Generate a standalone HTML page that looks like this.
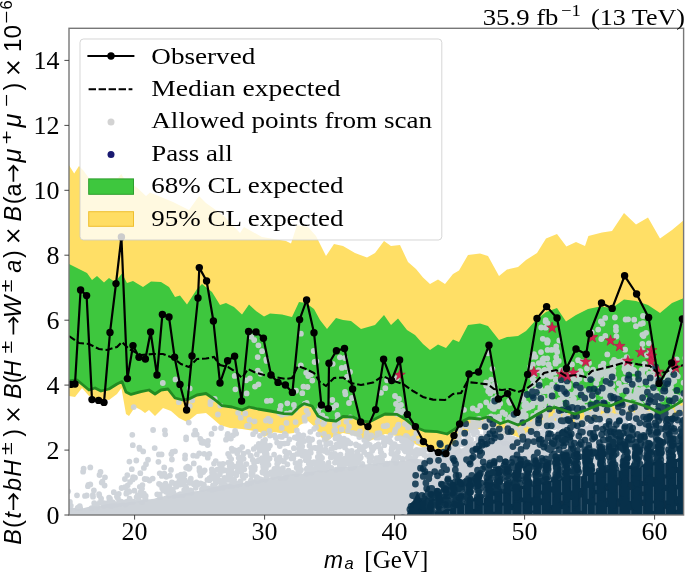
<!DOCTYPE html><html><head><meta charset="utf-8"><title>plot</title><style>html,body{margin:0;padding:0;background:#fff}svg{display:block;will-change:transform;transform:translateZ(0)}text{font-family:"Liberation Serif",serif;fill:#000}.s{font-family:"Liberation Sans",sans-serif}</style></head><body>
<svg width="685" height="572" viewBox="0 0 685 572">
<rect width="685" height="572" fill="#fff"/>
<defs><clipPath id="c"><rect x="69.0" y="28.3" width="614.6" height="486.7"/></clipPath></defs>
<g clip-path="url(#c)">
<polygon fill="#ffdf66" points="69.0,165.3 74.2,173.4 79.0,166.0 83.4,170.4 89.2,178.5 100.0,180.0 112.0,178.0 118.0,178.0 121.3,174.0 124.0,178.5 137.4,188.0 146.0,196.0 150.0,192.5 173.0,202.0 189.0,210.0 199.0,196.0 206.0,203.0 224.0,216.0 240.0,233.0 244.0,227.0 262.0,237.0 286.0,241.0 291.0,243.6 297.0,225.0 308.0,227.0 316.0,236.0 326.0,256.0 334.0,244.0 343.0,246.0 355.0,253.0 367.0,257.6 375.0,253.0 384.0,241.0 391.0,246.0 400.0,245.0 408.0,262.0 416.0,269.0 423.0,277.6 430.0,284.0 438.0,279.4 445.0,284.0 453.0,274.0 459.0,270.4 468.0,255.0 480.0,253.6 488.0,256.0 499.0,276.0 507.0,269.6 518.0,267.0 526.0,260.0 537.0,253.0 546.0,238.4 557.0,234.0 566.4,246.6 576.0,242.0 585.0,246.0 588.4,236.0 602.0,232.4 612.0,231.0 624.0,213.0 636.0,224.4 648.0,217.6 660.0,238.6 672.0,230.0 684.0,220.0 684.0,412.0 672.0,419.0 660.0,425.0 648.0,419.0 636.0,415.0 624.0,412.0 610.0,419.0 600.0,417.0 590.0,422.0 580.0,427.0 570.0,424.0 560.0,420.0 550.0,422.0 540.0,427.0 530.0,432.0 520.0,438.0 510.0,434.0 500.0,436.0 490.0,430.0 480.0,429.0 471.0,430.0 463.0,434.0 455.0,444.0 447.0,451.0 443.0,450.0 423.0,448.0 415.0,444.0 407.0,438.0 397.0,436.0 385.0,434.0 377.0,438.0 369.0,441.0 361.0,438.0 353.0,435.0 343.0,433.0 334.0,436.0 326.0,442.0 320.0,436.0 316.0,428.0 308.0,421.0 300.0,425.0 294.0,433.0 286.0,434.0 274.0,432.0 264.0,437.0 260.0,432.0 242.0,429.0 230.0,428.0 220.0,425.0 212.0,418.0 206.0,413.0 197.0,414.0 187.0,422.0 179.0,418.0 171.0,411.0 163.0,408.0 155.0,416.0 149.0,410.0 145.0,413.0 141.0,410.0 135.0,407.0 129.0,416.0 126.0,414.0 121.4,388.0 117.0,394.0 109.0,400.0 95.0,398.0 89.0,396.0 82.0,388.0 75.0,397.0 69.0,396.0"/>
<polygon fill="#3ec73e" points="69.0,264.0 77.0,268.0 87.0,273.0 92.0,280.0 97.0,276.0 104.0,282.4 109.0,278.0 115.0,282.0 122.0,273.6 127.0,283.0 133.0,281.0 143.0,287.0 151.0,281.6 161.0,282.0 169.0,287.0 175.0,297.0 180.0,295.6 187.0,304.4 197.0,289.0 202.0,284.0 212.0,292.0 220.0,305.0 226.0,303.0 234.0,307.0 242.0,314.4 249.0,304.4 256.0,311.0 264.0,316.6 270.0,313.6 282.0,314.4 292.0,317.0 299.0,302.0 306.0,303.0 314.0,309.0 320.0,320.0 327.0,329.0 336.0,318.0 343.0,320.0 351.0,321.0 361.0,329.0 375.0,325.0 384.0,315.0 391.0,325.0 398.0,318.4 407.0,330.0 415.0,335.0 423.0,344.0 430.0,350.0 438.0,344.4 446.0,348.0 453.0,339.6 459.0,342.0 468.0,325.0 480.0,323.5 488.0,326.0 499.0,340.0 507.0,337.0 518.0,336.0 526.0,331.0 536.0,320.0 546.0,312.0 557.0,308.0 566.0,321.5 576.0,315.0 588.0,309.0 600.0,306.4 612.0,308.0 624.0,299.6 636.0,301.0 648.0,305.0 660.0,313.0 672.0,303.0 684.0,298.0 684.0,400.0 672.0,407.0 660.0,413.0 648.0,407.0 636.0,403.0 624.0,400.0 610.0,406.0 599.0,404.7 586.0,410.0 575.0,414.0 566.0,411.0 556.0,407.5 548.0,408.5 538.0,414.0 528.0,420.0 518.0,425.0 508.0,421.0 500.0,423.6 488.0,417.0 480.0,419.0 469.0,418.0 463.0,421.0 455.0,429.0 447.0,434.0 437.0,431.6 425.0,431.0 415.0,427.0 405.0,419.0 397.0,414.4 385.0,414.0 379.0,417.0 369.0,422.0 361.0,421.0 353.0,417.0 343.0,416.5 336.0,421.0 326.0,420.0 318.0,416.0 312.0,406.0 304.0,403.6 299.0,407.0 292.0,414.0 284.0,413.6 270.0,411.0 258.0,409.0 249.0,407.0 242.0,410.0 232.0,407.0 222.0,405.6 214.0,399.0 206.0,393.5 197.0,395.0 189.0,399.0 183.0,400.0 175.0,398.0 168.0,389.0 161.0,390.0 155.0,394.0 149.0,390.0 141.0,391.6 131.0,394.4 126.0,392.0 122.0,381.6 117.0,384.0 109.0,389.0 101.0,391.0 95.0,388.0 89.0,390.0 77.0,380.0 69.0,381.0"/>
<polygon fill="#ced3d9" points="66.0,508.1 70.0,508.1 74.0,507.8 78.0,508.9 82.0,508.4 86.0,507.4 90.0,506.6 94.0,506.2 98.0,506.5 102.0,504.9 106.0,504.2 110.0,503.4 114.0,503.3 118.0,503.4 122.0,502.6 126.0,502.7 130.0,501.7 134.0,501.5 138.0,501.2 142.0,500.3 146.0,499.5 150.0,499.3 154.0,498.7 158.0,497.6 162.0,496.9 166.0,495.3 170.0,496.2 174.0,494.2 178.0,494.2 182.0,494.1 186.0,492.9 190.0,492.5 194.0,491.3 198.0,491.1 202.0,489.8 206.0,489.4 210.0,487.7 214.0,486.8 218.0,486.7 222.0,485.3 226.0,484.8 230.0,484.1 234.0,484.9 238.0,484.0 242.0,483.3 246.0,482.6 250.0,481.0 254.0,480.0 258.0,480.4 262.0,478.4 266.0,479.2 270.0,477.3 274.0,477.2 278.0,475.9 282.0,476.5 286.0,474.8 290.0,474.4 294.0,473.8 298.0,473.4 302.0,474.0 306.0,472.1 310.0,471.7 314.0,471.5 318.0,470.2 322.0,470.5 326.0,470.5 330.0,469.2 334.0,468.8 338.0,467.2 342.0,466.9 346.0,467.0 350.0,466.7 354.0,466.3 358.0,465.8 362.0,463.9 366.0,464.5 370.0,463.4 374.0,464.2 378.0,462.9 382.0,462.8 386.0,462.3 390.0,460.4 394.0,460.9 398.0,461.4 402.0,460.6 406.0,460.2 410.0,458.7 414.0,458.8 418.0,459.0 422.0,459.4 426.0,459.5 430.0,459.6 434.0,458.0 438.0,459.2 442.0,458.5 446.0,456.6 450.0,454.2 454.0,451.8 458.0,448.7 462.0,448.5 466.0,446.0 470.0,442.7 474.0,441.2 478.0,439.2 482.0,439.1 486.0,438.0 490.0,439.9 494.0,440.2 498.0,440.1 502.0,441.0 506.0,440.5 510.0,441.9 514.0,441.7 518.0,442.2 522.0,442.6 526.0,441.5 530.0,440.5 534.0,438.2 538.0,438.5 542.0,435.6 546.0,435.8 550.0,433.3 554.0,433.5 558.0,431.7 562.0,430.0 566.0,430.0 570.0,429.6 574.0,429.5 578.0,428.0 582.0,427.4 586.0,427.1 590.0,426.5 594.0,426.2 598.0,425.4 602.0,424.9 606.0,426.2 610.0,426.1 614.0,424.5 618.0,425.4 622.0,424.3 626.0,424.1 630.0,423.5 634.0,423.4 638.0,422.9 642.0,422.7 646.0,422.4 650.0,422.3 654.0,422.6 658.0,422.6 662.0,422.9 666.0,421.2 670.0,421.4 674.0,421.3 678.0,422.1 682.0,420.7 686.0,420.4 690.0,520.0 66.0,520.0"/>
<path d="M489.9 387.6h0M659.3 411.8h0M533.6 399.7h0M633.7 369.9h0M638.5 405.4h0M551.7 349.9h0M421.2 453.1h0M254.9 467.3h0M522.9 417.3h0M576.6 388.7h0M586.5 379.3h0M257.8 370.6h0M189.8 406.1h0M614.3 378.5h0M532.4 405.7h0M674.8 403.5h0M254.6 421.3h0M138.2 499.5h0M626.0 401.7h0M127.7 485.3h0M407.8 457.7h0M631.1 404.3h0M533.3 384.1h0M515.8 440.4h0M350.3 417.4h0M617.2 399.1h0M486.2 385.8h0M526.7 406.2h0M262.1 351.2h0M547.8 430.7h0M139.8 486.8h0M160.0 497.2h0M606.2 392.8h0M408.4 438.4h0M616.7 395.6h0M97.4 507.3h0M164.3 473.6h0M87.9 486.2h0M330.5 443.1h0M552.3 395.0h0M542.7 391.1h0M100.5 471.9h0M257.7 357.1h0M355.3 463.0h0M557.6 410.6h0M517.6 421.9h0M196.7 434.4h0M634.2 319.7h0M497.6 437.1h0M505.1 414.1h0M117.9 498.2h0M489.4 439.0h0M259.9 435.8h0M652.8 409.6h0M327.3 452.6h0M652.4 411.5h0M565.7 379.1h0M142.4 485.1h0M550.0 368.1h0M616.6 418.2h0M590.2 375.0h0M678.6 407.6h0M247.3 483.7h0M456.4 452.1h0M350.6 468.0h0M215.7 461.1h0M258.7 460.1h0M603.0 401.7h0M618.1 410.2h0M279.9 409.7h0M510.8 417.8h0M572.1 424.9h0M180.5 484.6h0M220.8 481.1h0M391.3 453.6h0M328.3 436.8h0M662.5 408.3h0M547.4 323.1h0M609.4 390.6h0M350.6 458.5h0M265.6 473.9h0M581.1 408.0h0M591.2 425.7h0M688.2 422.9h0M126.3 501.9h0M161.6 454.4h0M232.8 485.4h0M659.3 406.2h0M265.0 444.1h0M219.5 488.2h0M176.5 486.5h0M492.4 368.8h0M310.4 464.4h0M143.9 467.9h0M655.5 403.7h0M385.3 426.2h0M604.5 417.1h0M277.7 468.3h0M133.1 477.2h0M623.6 426.4h0M254.3 468.2h0M382.6 437.5h0M612.1 366.9h0M268.5 464.8h0M317.7 448.0h0M475.5 429.4h0M640.8 323.9h0M376.3 437.7h0M565.1 395.4h0M491.4 428.4h0M686.8 356.4h0M360.3 458.2h0M644.5 411.9h0M171.9 482.3h0M509.1 400.9h0M601.7 418.4h0M335.5 438.4h0M333.1 447.9h0M298.6 444.2h0M421.1 450.4h0M652.6 383.9h0M559.5 400.1h0M566.2 426.7h0M139.6 448.9h0M603.8 408.3h0M344.3 465.3h0M531.9 439.0h0M638.3 412.0h0M180.3 494.2h0M482.1 423.7h0M289.2 452.9h0M589.0 363.0h0M200.4 475.4h0M83.1 471.7h0M246.1 380.3h0M572.0 394.9h0M340.5 454.6h0M545.7 327.7h0M342.5 459.8h0M291.6 458.4h0M542.8 338.8h0M605.3 336.0h0M472.8 408.5h0M358.4 462.7h0M315.6 448.0h0M165.5 483.7h0M415.7 455.8h0M96.3 504.5h0M391.9 447.6h0M528.0 434.8h0M578.3 429.3h0M611.8 426.3h0M172.4 452.0h0M228.6 475.0h0M645.5 419.5h0M559.3 340.5h0M479.3 420.6h0M258.8 444.0h0M355.6 433.6h0M244.3 469.3h0M530.2 367.0h0M690.0 419.7h0M642.4 334.8h0M274.4 469.0h0M669.3 381.8h0M640.1 381.4h0M655.5 416.9h0M624.4 369.0h0M643.1 389.2h0M507.4 436.2h0M559.1 423.2h0M636.7 419.6h0M263.2 466.8h0M631.9 425.8h0M154.7 448.1h0M682.7 414.8h0M219.9 480.6h0M357.6 457.5h0M149.5 480.5h0M125.6 504.3h0M540.9 426.5h0M669.2 377.4h0M322.3 415.5h0M121.3 501.6h0M573.9 398.6h0M429.0 458.5h0M302.2 446.2h0M383.6 426.1h0M326.2 444.4h0M487.3 437.5h0M607.2 390.4h0M621.6 387.5h0M547.7 374.9h0M629.1 390.5h0M308.2 376.0h0M296.7 467.7h0M489.4 434.9h0M613.4 370.9h0M226.0 439.7h0M366.6 433.0h0M174.9 483.7h0M612.3 370.7h0M281.5 460.7h0M318.2 410.9h0M639.0 398.2h0M223.0 484.4h0M606.5 378.1h0M646.1 332.8h0M544.5 421.8h0M200.2 472.5h0M296.6 474.2h0M646.9 379.2h0M584.1 399.2h0M477.7 419.3h0M466.3 442.6h0M136.3 460.5h0M339.7 468.1h0M430.9 455.5h0M379.4 457.7h0M113.8 492.2h0M353.6 456.3h0M527.5 441.1h0M231.6 474.0h0M508.3 424.7h0M142.0 488.6h0M353.1 467.3h0M227.8 434.0h0M565.0 428.6h0M540.5 433.0h0M280.6 477.8h0M543.7 358.5h0M240.4 470.2h0M240.7 462.4h0M684.1 400.5h0M535.1 397.4h0M280.5 472.8h0M212.0 472.3h0M400.5 412.9h0M397.3 438.3h0M307.1 469.8h0M537.0 402.4h0M542.4 437.7h0M559.3 419.8h0M533.1 429.2h0M321.0 465.2h0M519.4 430.4h0M642.0 349.9h0M480.2 424.9h0M612.5 385.8h0M252.8 460.0h0M530.6 440.5h0M469.8 442.4h0M562.8 397.7h0M236.6 472.8h0M539.5 381.9h0M312.2 470.8h0M196.5 482.5h0M578.6 425.6h0M90.3 484.4h0M160.2 484.7h0M385.3 463.9h0M285.1 451.4h0M643.9 412.8h0M615.9 326.9h0M536.2 428.7h0M266.8 476.1h0M359.8 449.6h0M362.3 463.8h0M190.6 490.5h0M616.2 405.1h0M640.5 412.7h0M322.8 463.7h0M525.5 422.6h0M203.1 442.9h0M526.1 403.3h0M485.6 435.8h0M656.4 379.9h0M331.2 454.6h0M652.7 392.3h0M398.5 424.7h0M513.5 414.0h0M286.1 457.0h0M625.4 419.9h0M546.7 409.1h0M203.3 441.7h0M599.5 373.4h0M360.3 456.1h0M490.1 425.5h0M650.4 402.1h0M587.0 429.5h0M141.9 502.1h0M650.0 403.1h0M367.0 442.9h0M547.2 358.4h0M365.9 444.5h0M384.0 455.4h0M304.4 417.5h0M231.4 485.2h0M624.4 363.4h0M186.1 437.4h0M457.8 445.5h0M536.9 389.4h0M513.8 441.6h0M491.0 423.8h0M297.8 438.3h0M616.7 424.1h0M477.2 410.3h0M124.9 487.1h0M321.8 450.6h0M606.7 379.1h0M596.9 409.1h0M389.5 440.5h0M169.4 486.2h0M624.1 420.6h0M318.2 458.2h0M362.5 464.8h0M223.6 482.8h0M556.8 424.4h0M527.2 420.1h0M214.7 399.0h0M685.3 357.9h0M220.3 405.6h0M251.7 481.8h0M458.8 450.9h0M536.9 412.9h0M568.8 384.7h0M354.3 459.8h0M625.7 371.7h0M386.9 463.7h0M651.7 367.2h0M146.7 479.1h0M506.6 430.0h0M302.7 455.8h0M77.0 495.3h0M662.3 411.3h0M499.1 416.7h0M677.8 376.3h0M646.7 382.4h0M169.0 495.4h0M287.8 471.9h0M250.6 455.7h0M309.7 441.6h0M417.5 450.1h0M533.6 434.5h0M208.0 441.0h0M580.4 392.1h0M497.3 435.5h0M396.8 378.1h0M550.8 376.5h0M335.3 430.1h0M687.8 352.3h0M558.9 419.3h0M343.9 438.7h0M228.3 462.6h0M427.1 449.5h0M258.4 345.3h0M297.5 438.6h0M426.9 458.7h0M535.5 438.0h0M383.8 442.4h0M186.3 487.8h0M612.3 362.7h0M494.3 440.4h0M533.2 415.9h0M202.1 441.2h0M297.2 453.9h0M459.2 439.4h0M385.3 388.2h0M246.6 393.4h0M405.7 449.0h0M483.7 427.3h0M185.0 480.4h0M532.1 406.1h0M178.5 495.0h0M617.0 361.6h0M635.4 384.3h0M550.3 400.2h0M308.6 438.3h0M293.9 448.2h0M464.8 440.6h0M541.6 411.5h0M336.2 405.2h0M587.0 397.4h0M317.5 468.9h0M380.4 449.0h0M480.8 436.8h0M306.5 473.7h0M642.9 323.2h0M339.6 462.7h0M310.5 465.3h0M207.4 479.9h0M401.8 440.6h0M412.5 459.4h0M545.5 410.9h0M522.4 432.5h0M319.3 455.4h0M605.1 373.0h0M649.0 373.8h0M159.5 494.6h0M610.0 385.8h0M508.0 419.2h0M547.8 341.0h0M408.7 442.3h0M120.9 502.3h0M613.0 373.4h0M573.6 410.4h0M324.2 422.5h0M531.4 373.9h0M79.8 506.2h0M494.1 390.9h0M287.5 443.2h0M493.6 406.2h0M669.3 408.7h0M566.2 428.3h0M401.5 446.4h0M293.3 458.2h0M337.5 420.1h0M392.3 453.5h0M376.4 445.7h0M419.9 451.9h0M132.7 479.4h0M182.2 494.7h0M546.5 411.8h0M598.2 329.6h0M132.3 434.8h0M320.2 407.2h0M565.4 424.2h0M494.6 384.6h0M331.3 448.9h0M627.3 408.1h0M236.2 433.6h0M606.8 388.2h0M590.2 426.6h0M548.6 364.5h0M460.6 433.2h0M531.1 437.3h0M518.6 421.1h0M215.8 488.4h0M213.9 487.1h0M236.0 466.4h0M269.9 445.6h0M641.6 412.5h0M274.5 435.4h0M210.4 404.2h0M588.7 427.9h0M600.8 374.9h0M502.6 412.4h0M225.2 470.4h0M217.3 469.7h0M312.1 439.5h0M302.3 393.2h0M375.2 462.9h0M625.8 372.0h0M638.1 422.0h0M224.4 477.8h0M209.5 480.1h0M510.6 416.8h0M251.2 467.8h0M636.0 397.4h0M396.9 455.4h0M632.3 370.8h0M433.1 454.7h0M261.7 449.1h0M391.5 449.9h0M277.2 463.9h0M320.5 462.9h0M652.5 400.8h0M283.9 461.4h0M279.6 457.3h0M545.6 321.6h0M624.6 365.0h0M544.0 404.4h0M111.3 505.7h0M413.7 438.2h0M266.9 400.9h0M462.8 444.2h0M145.1 497.4h0M347.9 451.1h0M688.9 412.0h0M193.8 463.4h0M614.0 359.9h0M310.5 465.7h0M118.8 493.8h0M545.6 417.0h0M104.6 485.5h0M169.1 489.0h0M685.9 421.7h0M187.7 466.6h0M468.1 436.7h0M669.2 389.6h0M598.3 410.6h0M231.2 459.1h0M356.6 463.6h0M456.5 448.8h0M675.1 396.7h0M620.9 401.6h0M671.5 377.8h0M393.9 460.1h0M609.7 399.1h0M480.2 405.8h0M152.7 478.6h0M520.9 429.2h0M626.7 357.1h0M347.5 454.7h0M323.1 424.1h0M68.3 491.3h0M593.2 398.3h0M519.2 415.3h0M665.8 423.5h0M607.4 420.7h0M333.0 407.7h0M364.2 446.7h0M322.8 463.3h0M387.1 380.3h0M500.4 440.6h0M214.1 489.2h0M561.1 410.7h0M263.1 441.5h0M600.9 426.6h0M161.8 475.9h0M200.5 483.4h0M550.0 420.5h0M337.5 414.9h0M175.0 451.3h0M677.6 408.6h0M547.2 340.1h0M410.2 445.2h0M109.1 497.6h0M404.9 444.9h0M559.2 386.8h0M536.6 427.8h0M671.2 392.9h0M603.4 363.6h0M365.5 446.0h0M171.6 493.8h0M423.8 449.8h0M572.7 408.5h0M561.1 370.1h0M534.0 354.2h0M350.2 457.6h0M577.4 422.3h0M632.3 381.3h0M301.9 450.0h0M563.4 411.6h0M248.7 426.0h0M540.4 407.4h0M550.2 395.6h0M573.0 399.7h0M628.3 364.5h0M438.8 456.6h0M394.6 457.2h0M135.0 477.7h0M258.9 480.8h0M636.0 424.9h0M64.7 509.2h0M238.1 450.5h0M129.3 491.8h0M650.5 394.4h0M188.8 422.6h0M371.4 435.3h0M296.0 390.7h0M338.3 422.4h0M517.6 419.5h0M384.3 445.2h0M249.5 419.9h0M189.8 482.4h0M287.4 464.3h0M504.1 440.0h0M550.9 404.6h0M404.6 450.6h0M618.8 383.3h0M178.9 402.2h0M577.1 389.9h0M595.0 375.3h0M568.0 394.0h0M266.7 454.1h0M369.3 457.5h0M560.9 386.5h0M671.4 411.6h0M238.8 462.9h0M662.2 418.6h0M542.4 412.6h0M247.0 425.9h0M560.6 404.7h0M543.1 363.0h0M486.4 385.1h0M593.7 427.5h0M298.4 434.4h0M274.1 471.3h0M655.3 395.4h0M191.2 491.1h0M624.1 425.4h0M546.8 422.7h0M400.2 438.1h0M139.3 447.6h0M306.7 469.1h0M644.9 380.1h0M689.6 358.7h0M171.3 454.1h0M530.5 389.2h0M229.4 456.3h0M222.9 487.4h0M237.8 467.5h0M652.1 407.4h0M681.5 414.1h0M339.7 459.8h0M587.5 409.1h0M524.2 405.4h0M158.9 454.4h0M287.3 403.3h0M502.6 433.7h0M452.7 452.0h0M556.2 357.1h0M532.8 364.7h0M643.5 336.1h0M653.5 370.5h0M540.6 426.1h0M639.2 411.8h0M580.8 389.2h0M372.2 449.9h0M609.1 417.9h0M306.2 372.8h0M655.6 376.3h0M348.4 441.7h0M199.5 470.7h0M314.3 469.6h0M373.7 448.3h0M667.7 377.6h0M265.7 447.9h0M370.5 454.2h0M616.3 416.1h0M523.6 411.2h0M657.6 401.1h0M289.4 439.5h0M639.5 383.0h0M547.3 388.2h0M170.1 494.0h0M278.5 462.1h0M228.4 479.9h0M223.0 463.9h0M317.6 468.7h0M430.2 458.8h0M583.8 427.2h0M576.6 417.4h0M293.7 455.6h0M286.4 413.7h0M102.4 481.6h0M309.9 468.9h0M251.6 475.5h0M394.7 432.0h0M458.6 439.9h0M490.2 393.4h0M180.1 478.3h0M243.6 458.8h0M614.1 393.9h0M560.1 403.6h0M579.5 378.5h0M677.2 397.1h0M550.2 371.5h0M227.8 478.0h0M606.7 426.3h0M299.4 449.4h0M628.2 368.6h0M568.6 417.7h0M676.7 359.4h0M144.7 479.0h0M493.9 408.9h0M592.8 422.9h0M461.6 442.1h0M196.9 455.9h0M569.9 400.9h0M129.3 502.1h0M600.6 425.6h0M319.1 416.9h0M393.1 447.6h0M78.0 507.6h0M339.4 441.7h0M110.0 498.7h0M434.7 455.9h0M285.9 435.1h0M658.6 405.7h0M305.8 460.2h0M307.5 387.0h0M184.5 475.1h0M488.1 353.3h0M397.8 425.9h0M523.6 400.1h0M640.0 414.7h0M451.1 448.1h0M169.9 475.6h0M261.2 446.7h0M240.7 417.7h0M171.0 469.9h0M359.9 431.5h0M255.0 386.6h0M377.4 433.3h0M258.5 384.3h0M427.9 456.1h0M625.6 319.5h0M542.4 375.9h0M534.5 436.2h0M351.7 450.9h0M262.5 472.6h0M611.9 377.8h0M148.0 459.7h0M240.5 481.5h0M670.5 412.5h0M650.6 423.6h0M250.9 455.8h0M609.5 423.9h0M600.9 372.0h0M319.0 452.5h0M340.8 468.7h0M597.9 378.9h0M350.1 461.5h0M648.2 400.7h0M591.7 332.4h0M238.1 412.8h0M683.6 382.7h0M418.6 441.3h0M621.2 402.0h0M357.4 451.8h0M311.0 462.4h0M607.3 354.4h0M109.8 502.2h0M557.6 424.8h0M636.1 392.9h0M651.5 379.5h0M254.7 469.6h0M490.0 406.2h0M556.2 346.5h0M510.2 426.1h0M605.2 317.9h0M641.7 424.3h0M314.6 362.0h0M376.5 458.1h0M643.2 416.5h0M184.0 480.8h0M613.8 394.0h0M676.2 374.0h0M83.6 468.7h0M629.0 365.0h0M632.2 415.8h0M565.4 383.5h0M642.4 344.0h0M492.6 426.0h0M239.5 468.1h0M274.2 475.4h0M625.3 380.2h0M515.2 427.4h0M292.4 472.9h0M557.1 407.4h0M605.9 397.0h0M636.8 415.1h0M520.0 419.4h0M418.6 453.5h0M369.7 461.4h0M491.1 390.2h0M529.1 407.6h0M266.6 360.9h0M208.0 488.3h0M598.6 405.2h0M269.4 430.9h0M469.9 443.2h0M272.9 475.6h0M221.8 471.1h0M655.7 411.4h0M543.6 436.0h0M417.0 450.7h0M263.4 468.0h0M203.1 484.4h0M555.4 362.2h0M305.5 451.9h0M573.8 428.6h0M544.1 425.4h0M631.6 396.2h0M626.2 401.5h0M526.2 408.3h0M543.9 412.8h0M284.3 443.6h0M619.9 403.2h0M378.1 437.7h0M553.4 434.8h0M407.0 436.6h0M490.6 389.1h0M532.9 397.6h0M231.6 464.3h0M646.6 419.8h0M264.2 460.0h0M670.5 370.9h0M576.8 381.3h0M318.6 460.7h0M325.5 449.7h0M379.5 433.2h0M646.1 400.2h0M92.9 494.9h0M549.6 399.5h0M232.2 483.8h0M566.7 396.8h0M469.4 440.1h0M615.3 397.8h0M587.0 368.5h0M633.4 379.1h0M299.9 453.8h0M592.9 394.6h0M548.9 434.2h0M271.1 472.4h0M326.1 418.9h0M345.2 458.5h0M619.4 390.4h0M557.5 407.7h0M602.5 323.7h0M567.5 410.3h0M185.1 455.5h0M544.1 370.4h0M404.9 437.6h0M162.8 383.0h0M159.0 483.8h0M616.0 330.5h0M217.9 414.5h0M263.7 471.8h0M485.9 428.8h0M414.3 453.2h0M581.3 409.3h0M644.4 363.9h0M112.6 502.1h0M310.3 431.8h0M243.5 453.7h0M619.6 409.1h0M671.0 386.7h0M199.4 468.1h0M628.1 319.3h0M645.6 368.5h0M209.4 478.5h0M69.4 509.1h0M610.5 419.6h0M236.8 483.3h0M685.8 403.5h0M497.2 396.7h0M650.2 350.9h0M270.7 400.6h0M458.0 438.1h0M578.0 374.5h0M611.7 415.3h0M610.4 372.0h0M508.3 425.9h0M593.0 369.6h0M600.7 403.6h0M270.0 435.6h0M338.1 417.4h0M626.8 414.2h0M221.3 485.6h0M188.9 468.8h0M300.8 365.4h0M576.1 375.9h0M348.0 430.7h0M588.6 427.9h0M371.2 456.8h0M624.6 410.9h0M336.5 444.6h0M350.0 458.5h0M394.6 444.1h0M302.5 439.0h0M594.4 428.3h0M511.0 440.2h0M655.1 409.8h0M68.1 501.7h0M183.5 476.6h0M639.1 399.3h0M69.9 502.0h0M560.1 383.6h0M575.4 374.9h0M573.9 431.2h0M675.5 375.8h0M452.5 447.2h0M424.4 454.9h0M392.3 445.0h0M665.3 415.9h0M577.6 411.5h0M259.9 479.2h0M214.6 428.3h0M225.8 485.7h0M266.3 359.5h0M640.6 383.6h0M502.9 432.2h0M101.1 498.6h0M278.9 474.5h0M559.7 390.0h0M296.8 430.5h0M627.2 398.8h0M408.2 443.0h0M589.5 419.3h0M572.8 406.7h0M321.4 462.4h0M207.7 445.1h0M642.5 425.3h0M256.6 477.2h0M464.9 433.0h0M267.2 419.8h0M489.6 434.0h0M591.5 420.7h0M364.2 452.1h0M531.3 430.3h0M242.2 447.1h0M413.3 451.4h0M326.4 468.0h0M331.3 467.8h0M492.0 408.0h0M280.7 405.8h0M270.4 420.4h0M356.0 444.5h0M228.5 470.2h0M463.3 434.5h0M684.3 396.5h0M616.4 336.5h0M487.2 429.2h0M617.1 418.3h0M347.2 440.4h0M605.8 383.4h0M637.4 422.4h0M476.3 423.3h0M221.1 428.0h0M295.1 409.7h0M559.3 386.0h0M246.4 464.1h0M298.3 468.4h0M339.1 436.9h0M427.6 457.4h0M264.7 453.1h0M556.5 350.4h0M647.8 419.0h0M534.2 380.7h0M623.7 414.7h0M204.7 470.3h0M163.6 473.9h0M386.6 441.4h0M640.1 425.0h0M640.8 394.1h0M656.2 421.7h0M565.0 412.8h0M134.4 490.7h0M560.6 425.4h0M542.3 372.7h0M620.0 361.6h0M282.9 468.2h0M466.0 426.2h0M475.8 426.4h0M485.4 421.9h0M555.8 379.8h0M523.6 395.5h0M313.7 351.0h0M405.5 451.4h0M558.6 416.5h0M634.5 371.0h0M193.9 434.6h0M625.2 423.6h0M350.5 459.9h0M532.0 391.4h0M193.2 455.6h0M141.0 493.8h0M250.0 482.9h0M537.7 423.8h0M124.9 479.0h0M281.4 470.7h0M299.1 449.1h0M555.5 363.7h0M674.3 381.1h0M319.5 442.4h0M541.3 432.7h0M99.8 502.6h0M366.1 438.6h0M688.5 414.6h0M263.9 465.3h0M300.1 471.2h0M570.7 431.3h0M551.2 397.1h0M632.9 420.8h0M372.7 447.9h0M545.7 320.2h0M265.1 439.8h0M547.6 349.9h0M641.6 417.2h0M173.4 492.7h0M541.2 327.5h0M578.7 408.0h0M314.2 428.8h0M653.6 398.2h0M548.4 391.4h0M371.7 447.7h0M537.0 414.9h0M457.5 436.2h0M109.4 502.2h0M259.9 450.6h0M527.1 438.4h0M560.9 404.2h0M435.9 455.3h0M622.4 419.9h0M468.0 435.5h0M601.3 372.4h0M486.1 434.1h0M467.5 444.8h0M644.7 414.5h0M360.8 457.3h0M558.2 426.8h0M113.1 503.8h0M332.3 400.0h0M131.8 469.2h0M606.6 373.6h0M586.5 407.1h0M171.9 459.5h0M248.0 451.8h0M109.4 500.2h0M495.0 421.9h0M260.2 460.0h0M166.3 476.8h0M218.1 481.0h0M494.3 404.5h0M166.7 486.5h0M473.9 434.3h0M452.4 453.3h0M581.4 374.5h0M471.1 439.6h0M345.4 394.3h0M489.6 389.2h0M578.0 427.0h0M347.3 458.5h0M593.0 375.5h0M395.9 462.4h0M491.1 416.4h0M654.0 376.2h0M195.0 483.2h0M661.6 399.3h0M253.8 448.9h0M685.8 408.8h0M316.2 469.1h0M517.8 420.0h0M325.2 440.1h0M137.8 495.2h0M469.4 426.2h0M544.8 369.9h0M498.4 431.5h0M221.6 464.3h0M215.7 483.0h0M302.4 453.2h0M401.3 446.4h0M535.1 417.6h0M538.8 363.1h0M102.5 503.0h0M314.3 447.8h0M243.7 477.9h0M592.9 407.8h0M550.9 391.0h0M303.4 435.4h0M596.9 413.4h0M578.1 360.2h0M535.2 419.5h0M280.0 460.4h0M341.6 429.4h0M403.4 448.6h0M309.0 457.3h0M279.7 476.6h0M280.8 443.6h0M421.2 452.3h0M555.5 415.4h0M367.0 454.7h0M554.3 372.6h0M626.1 362.5h0M234.5 482.3h0M345.9 464.1h0M195.2 430.6h0M274.3 471.2h0M133.7 407.1h0M336.3 456.9h0M587.0 398.9h0M617.2 405.2h0M271.9 472.5h0M219.8 474.3h0M579.6 402.6h0M195.7 487.8h0M600.5 371.7h0M177.9 476.1h0M224.3 480.9h0M230.9 438.6h0M364.3 440.1h0M276.8 459.5h0M308.1 413.8h0M283.1 472.5h0M569.6 401.8h0M677.1 416.5h0M352.7 432.9h0M495.5 390.2h0M308.5 457.4h0M642.6 395.8h0M546.0 410.0h0M262.4 471.9h0M542.6 397.4h0M231.7 479.2h0M263.2 472.5h0M104.8 503.5h0M568.5 386.6h0M577.6 376.8h0M629.9 365.6h0M234.1 479.3h0M487.0 424.7h0M666.9 393.4h0M306.5 410.6h0M285.3 477.4h0M591.2 424.1h0M402.6 411.3h0M411.6 443.7h0M469.5 445.5h0M245.6 475.6h0M639.9 404.2h0M320.5 456.3h0M256.7 479.7h0M544.5 411.9h0M311.7 463.6h0M268.2 418.7h0M501.2 430.4h0M105.0 477.3h0M190.3 482.9h0M90.3 467.4h0M320.8 469.5h0M355.9 456.1h0M143.2 451.4h0M140.3 473.2h0M646.8 413.2h0M576.3 403.1h0M534.3 374.6h0M597.7 373.2h0M689.7 407.8h0M538.8 395.6h0M315.5 462.3h0M663.8 422.3h0M140.5 492.3h0M375.4 446.4h0M601.8 371.4h0M525.7 415.5h0M544.4 391.2h0M607.6 392.6h0M598.7 415.7h0M531.6 404.8h0M486.1 382.5h0M593.9 374.2h0M500.8 437.9h0M489.2 423.1h0M349.0 426.4h0M552.0 393.5h0M268.4 474.0h0M623.4 425.1h0M332.7 363.8h0M339.5 446.4h0M267.1 462.8h0M654.0 423.6h0M229.7 465.9h0M398.5 457.3h0M330.8 457.4h0M279.4 413.1h0M129.6 498.6h0M340.9 442.7h0M583.2 397.4h0M130.1 481.9h0M366.4 436.1h0M214.2 474.1h0M318.7 464.4h0M295.6 422.1h0M535.5 356.8h0M558.5 432.3h0M313.9 462.1h0M669.5 395.3h0M416.3 433.2h0M389.0 439.0h0M209.4 454.0h0M552.4 422.3h0M408.0 427.4h0M686.0 420.3h0M486.2 402.3h0M158.4 461.8h0M219.8 464.2h0M636.5 389.7h0M127.3 475.1h0M643.0 316.0h0M530.6 439.2h0M257.5 461.2h0M359.3 437.0h0M293.9 405.0h0M320.6 446.6h0M349.0 457.2h0M335.8 435.6h0M299.0 467.8h0M416.7 449.8h0M410.7 446.4h0M512.1 441.4h0M491.2 379.7h0M339.9 357.3h0M304.9 420.7h0M575.3 381.0h0M142.3 495.6h0M172.8 489.8h0M607.8 371.4h0M599.9 407.5h0M281.9 436.9h0M488.2 391.2h0M241.4 472.1h0M339.1 436.7h0M406.2 440.8h0M133.0 501.7h0M478.2 438.3h0M66.6 501.1h0M667.6 375.6h0M643.0 410.0h0M256.3 446.9h0M287.4 473.4h0M630.9 364.9h0M659.1 397.7h0M370.4 436.3h0M235.4 389.3h0M136.6 497.1h0M229.4 485.8h0M255.5 431.6h0M263.9 433.3h0M607.1 396.7h0M304.9 403.6h0M497.4 440.6h0M274.4 472.5h0M614.5 421.4h0M542.5 359.6h0M379.5 436.6h0M85.0 495.9h0M390.8 442.4h0M619.7 409.8h0M212.8 474.0h0M323.2 418.0h0M94.2 503.2h0M232.5 450.9h0M238.7 457.8h0M304.5 452.6h0M303.1 452.8h0M527.4 435.8h0M227.4 435.5h0M235.1 431.0h0M634.4 425.0h0M590.6 418.6h0M486.2 428.2h0M493.3 399.2h0M294.8 437.5h0M311.6 472.4h0M191.3 492.8h0M600.9 321.5h0M622.8 413.6h0M163.3 490.6h0M237.0 484.9h0M510.1 402.8h0M211.2 476.9h0M359.1 446.2h0M328.6 463.0h0M265.5 479.4h0M653.1 420.8h0M545.0 430.0h0M310.5 469.1h0M403.6 445.0h0M300.4 447.1h0M143.9 493.6h0M513.2 413.9h0M316.0 464.5h0M395.8 458.6h0M276.1 471.3h0M572.0 364.4h0M630.9 417.6h0M164.2 467.4h0M240.3 483.7h0M659.7 406.9h0M644.9 391.2h0M369.1 438.1h0M532.6 378.7h0M126.6 492.4h0M577.1 418.8h0M80.2 507.9h0M514.8 442.4h0M181.0 474.7h0M339.5 444.9h0M121.6 488.0h0M549.9 422.3h0M204.2 487.8h0M234.7 375.9h0M564.5 410.0h0M344.9 447.6h0M658.0 382.3h0M378.4 444.3h0M334.2 430.4h0M279.8 446.0h0M300.9 333.7h0M665.3 381.7h0M504.0 442.8h0M487.9 384.0h0M635.0 382.3h0M545.8 415.6h0M370.9 461.0h0M621.7 409.4h0M162.2 488.3h0M560.2 388.1h0M251.4 336.8h0M637.9 423.9h0M203.3 472.0h0M145.7 495.9h0M335.5 457.5h0M574.4 412.6h0M324.8 451.0h0M228.1 453.8h0M613.6 420.2h0M680.2 408.4h0M520.8 433.6h0M322.0 457.9h0M299.6 465.2h0M115.2 504.8h0M395.4 429.5h0M637.3 403.4h0M119.6 503.7h0M354.1 466.8h0M601.3 339.0h0M407.2 451.3h0M304.2 441.0h0M550.3 372.4h0M282.0 414.8h0M564.7 417.1h0M564.6 389.6h0M356.4 445.2h0M233.2 435.2h0M570.2 376.1h0M607.4 412.0h0M512.0 425.0h0M280.1 436.6h0M630.4 386.9h0M540.3 409.3h0M407.9 448.0h0M541.0 352.1h0M341.8 367.9h0M326.0 469.6h0M317.8 457.0h0M612.0 384.8h0M316.0 427.4h0M404.9 424.0h0M604.2 373.5h0M70.8 505.6h0M486.1 432.5h0M273.4 477.1h0M372.2 450.8h0M284.8 433.9h0M219.5 469.8h0M545.3 427.2h0M648.9 343.3h0M340.2 462.4h0M101.7 482.6h0M548.6 388.4h0M648.2 402.8h0M516.5 440.0h0M295.5 463.1h0M537.7 402.0h0M431.5 453.0h0M88.4 484.8h0M600.7 423.1h0M650.3 417.0h0M578.3 377.1h0M336.3 469.6h0M348.8 442.3h0M554.7 372.7h0M689.0 401.9h0M552.2 384.7h0M275.9 438.0h0M334.8 424.9h0M109.5 505.3h0M459.8 429.8h0M192.3 400.3h0M536.0 390.3h0M408.7 454.4h0M654.6 389.9h0M546.4 401.0h0M509.9 439.1h0M348.7 458.8h0M512.8 438.7h0M612.9 401.9h0M99.5 475.0h0M512.6 416.6h0M682.7 395.5h0M303.4 386.7h0M369.2 457.0h0M245.3 413.5h0M513.0 418.9h0M183.4 494.6h0M518.5 422.0h0M370.4 458.8h0M651.4 420.0h0M488.9 435.1h0M634.2 396.8h0M525.6 442.8h0M214.0 463.6h0M223.7 470.0h0M586.8 413.5h0M648.5 423.2h0M381.8 459.9h0M600.2 389.4h0M77.7 508.0h0M517.7 423.2h0M554.9 387.5h0M565.0 416.8h0M492.5 417.1h0M688.7 420.3h0M318.5 434.3h0M534.2 396.4h0M91.7 508.2h0M681.9 420.1h0M310.8 466.6h0M381.4 452.8h0M627.1 390.8h0M655.8 394.7h0M487.2 435.7h0M625.1 349.7h0M626.1 366.6h0M631.1 368.6h0M667.8 412.5h0M514.5 420.6h0M390.6 435.2h0M575.5 392.7h0M392.9 448.1h0M239.9 457.5h0M410.3 426.4h0M659.1 419.3h0M262.1 458.1h0M572.0 405.2h0M99.3 495.4h0M402.5 458.9h0M546.7 429.9h0M186.1 467.8h0M623.9 379.2h0M637.9 411.1h0M286.9 474.4h0M621.6 387.5h0M534.9 431.8h0M662.7 421.0h0M204.2 453.8h0M509.4 442.7h0M257.3 481.2h0M93.0 496.7h0M116.9 496.5h0M338.8 455.5h0M603.4 388.6h0M624.8 402.4h0M631.6 425.4h0M190.8 478.7h0M334.9 453.9h0M288.5 470.6h0M668.6 379.8h0M375.5 461.7h0M444.6 457.7h0M356.9 458.4h0M396.5 461.5h0M654.6 395.3h0M492.5 403.5h0M406.0 435.9h0M243.1 467.1h0M477.0 432.4h0M270.3 421.2h0M648.9 390.2h0M165.2 434.3h0M646.8 355.1h0M274.1 454.6h0M286.8 454.4h0M307.3 468.3h0M555.0 401.9h0M398.3 448.2h0M221.5 468.0h0M635.1 419.5h0M523.6 443.4h0M580.3 371.2h0M494.7 436.0h0M644.1 334.2h0M592.3 413.3h0M184.3 474.1h0M540.5 402.4h0M584.8 391.2h0M642.1 373.1h0M609.8 409.6h0M145.5 499.0h0M514.8 440.0h0M630.0 381.4h0M331.7 448.9h0M546.6 426.0h0M638.8 390.2h0M169.5 495.3h0M490.5 441.3h0M540.4 388.9h0M607.9 372.9h0M649.1 366.3h0M103.9 505.7h0M419.7 450.3h0M320.6 458.4h0M265.9 468.8h0M308.8 463.6h0M320.6 462.0h0M231.5 468.4h0M630.3 380.6h0M251.6 473.2h0M257.0 477.3h0M557.2 404.0h0M457.7 450.6h0M473.2 420.5h0M250.3 482.3h0M515.5 442.4h0M534.4 437.7h0M396.5 413.1h0M457.9 449.5h0M557.2 352.0h0M465.3 440.7h0M281.7 427.9h0M501.3 440.6h0M622.0 389.7h0M300.1 461.6h0M174.1 495.4h0M595.1 374.4h0M351.8 453.8h0M600.8 366.4h0M178.8 476.1h0M300.6 443.1h0M267.9 474.4h0M334.9 462.6h0M432.7 458.3h0M339.8 465.2h0M128.4 490.9h0M613.5 365.7h0M239.8 449.7h0M625.3 409.2h0M253.1 434.2h0M479.1 418.8h0M460.8 426.3h0M585.5 422.1h0M547.2 422.5h0M635.9 326.2h0M592.1 396.3h0M186.1 439.3h0M472.2 425.0h0M642.1 407.9h0M242.4 467.0h0M614.9 317.5h0M500.2 403.4h0M498.3 406.4h0M261.1 479.6h0M490.1 437.4h0M651.7 384.0h0M153.1 430.0h0M249.9 378.3h0M555.9 363.2h0M588.0 393.7h0M233.7 450.0h0M582.8 422.2h0M116.8 503.9h0M581.0 387.3h0M532.2 404.5h0M231.7 448.7h0M604.3 415.8h0M207.8 457.7h0M179.6 479.8h0M200.3 438.9h0M397.9 451.8h0M634.8 395.9h0M581.8 361.8h0M648.7 425.0h0M558.3 413.6h0M256.8 454.4h0M495.4 417.9h0M603.1 367.5h0M529.9 424.4h0M620.9 415.0h0M184.2 489.9h0M660.7 417.0h0M387.1 425.4h0M628.9 398.0h0M554.3 427.3h0M382.1 459.9h0M342.0 468.3h0M306.7 403.0h0M326.3 442.1h0M538.5 370.2h0M669.6 413.6h0M510.3 426.9h0M384.1 440.9h0M509.8 437.8h0M186.9 492.5h0M643.5 376.7h0M380.8 452.3h0M185.3 485.7h0M252.8 472.7h0M656.7 393.4h0M586.3 418.6h0M166.8 491.6h0M456.8 446.5h0M209.4 480.2h0M222.1 482.3h0M525.7 441.8h0M185.0 458.5h0M570.5 403.2h0M632.6 407.8h0M604.1 388.6h0M688.4 401.0h0M464.0 409.8h0M521.6 419.6h0M675.2 400.6h0M547.2 342.7h0M159.7 473.3h0M534.0 422.9h0M565.9 388.8h0M415.6 460.6h0M638.5 421.2h0M324.0 433.8h0M684.6 407.3h0M624.2 402.9h0M213.0 485.5h0M663.0 391.7h0M666.5 380.0h0M604.7 386.7h0M569.8 421.7h0M99.1 494.2h0M237.5 471.5h0M533.7 423.3h0M318.9 463.4h0M266.1 451.6h0M483.0 440.1h0M641.6 369.8h0M418.3 451.3h0M324.6 439.4h0M310.8 452.8h0M237.2 453.2h0M132.8 445.2h0M211.5 433.9h0M579.2 374.4h0M489.2 417.4h0M596.2 383.5h0M408.9 455.0h0M189.6 467.8h0M558.8 360.9h0M290.4 412.9h0M311.0 374.3h0M305.2 454.9h0M350.1 457.8h0M214.5 478.9h0M164.8 430.3h0M623.3 360.4h0M611.3 378.6h0M376.3 460.0h0M93.9 490.3h0M146.0 464.2h0M242.6 476.2h0M409.1 449.7h0M625.6 386.5h0M298.2 471.6h0M471.0 430.5h0M66.2 489.2h0M598.5 405.2h0M410.3 457.8h0M663.3 421.8h0M232.2 473.0h0M210.5 401.7h0M201.9 489.2h0M328.4 443.1h0M543.6 437.5h0M189.7 388.4h0M301.0 470.0h0M126.3 493.7h0M346.3 443.8h0M381.0 392.8h0M350.4 465.3h0M642.2 372.3h0M386.8 438.2h0M628.6 415.7h0M485.7 423.3h0M612.4 369.8h0M672.2 382.2h0M551.5 421.7h0M688.0 410.7h0M566.8 428.3h0M211.8 469.3h0M601.6 393.8h0M582.1 404.6h0M260.6 373.8h0M269.6 458.5h0M513.5 415.4h0M573.6 378.5h0M166.5 491.9h0M642.2 375.4h0M344.4 443.6h0M632.5 414.6h0M570.9 425.3h0M396.0 454.0h0M599.0 426.4h0M316.5 361.3h0M608.8 374.8h0M119.1 503.0h0M556.0 379.2h0M486.1 430.5h0M681.0 420.1h0M454.9 453.2h0M614.3 421.8h0M578.8 426.4h0M572.2 374.5h0M551.9 418.9h0M197.7 484.4h0M206.8 443.7h0M686.7 415.2h0M308.0 456.6h0M422.6 451.0h0M663.2 395.6h0M265.6 457.7h0M532.1 356.8h0M267.6 461.3h0M265.9 420.6h0M254.2 340.0h0M266.0 467.2h0M254.1 463.2h0M521.0 440.1h0M562.7 422.3h0M178.6 482.5h0M277.1 442.6h0M86.7 495.5h0M568.9 429.7h0M317.6 421.9h0M350.6 443.3h0M309.5 445.8h0M129.4 461.6h0M212.1 489.6h0M629.1 394.1h0M268.4 448.3h0M120.4 503.5h0M104.9 505.2h0M433.6 454.5h0M236.3 475.2h0M199.2 453.4h0M664.6 413.8h0M157.2 494.3h0M670.0 385.3h0M176.0 485.8h0M175.5 379.4h0M369.8 444.9h0M193.8 484.3h0M684.5 418.0h0M491.2 386.1h0M545.3 410.2h0M286.5 422.9h0M326.6 466.8h0M201.6 442.4h0M591.3 428.1h0M667.9 391.7h0M524.1 424.9h0M335.2 447.4h0M612.1 391.5h0M561.0 393.3h0M203.9 484.8h0M310.1 450.9h0M562.8 396.8h0M640.7 404.2h0M251.6 471.9h0M251.0 480.5h0M312.3 380.6h0M684.1 320.7h0M494.2 428.4h0M262.6 463.6h0M494.7 417.2h0M338.6 460.4h0M217.6 476.9h0M568.1 393.6h0M585.8 400.0h0M555.2 423.7h0M667.9 390.1h0M505.0 439.7h0M499.6 421.3h0M678.5 416.9h0M396.8 446.5h0M516.7 421.8h0M380.4 461.6h0M276.7 475.6h0M521.8 412.9h0M324.3 466.1h0M346.3 421.7h0M395.0 396.0h0M399.0 399.0h0M396.0 404.0h0M401.0 405.0h0M398.0 409.0h0M403.0 411.0h0M397.0 414.0h0M345.0 358.0h0M347.0 377.0h0M345.0 392.0h0M350.0 372.0h0M346.0 367.0h0M352.0 398.0h0M349.0 403.0h0" stroke="#cbd1d7" stroke-opacity="0.93" stroke-width="5.8" stroke-linecap="round" fill="none"/>
<polygon fill="#0a3049" points="406.0,520.0 406.7,516.0 407.6,512.0 409.8,508.0 409.7,504.0 414.0,500.0 415.6,496.0 417.2,492.0 430.0,515.1 435.0,517.4 440.0,512.4 445.0,509.4 450.0,509.1 455.0,507.4 460.0,504.2 465.0,505.1 470.0,502.2 475.0,497.1 480.0,497.2 485.0,497.9 490.0,492.4 495.0,491.1 500.0,490.9 505.0,492.0 510.0,490.7 515.0,489.6 520.0,485.4 525.0,485.9 530.0,487.5 535.0,484.2 540.0,484.2 545.0,480.9 550.0,480.8 555.0,478.9 560.0,479.5 565.0,476.0 570.0,475.4 575.0,475.4 580.0,476.4 585.0,475.4 590.0,474.5 595.0,472.1 600.0,472.7 605.0,470.6 610.0,468.5 615.0,470.0 620.0,470.5 625.0,469.9 630.0,464.9 635.0,468.5 640.0,467.2 645.0,463.0 650.0,463.6 655.0,461.5 660.0,464.2 665.0,463.0 670.0,462.2 675.0,459.5 680.0,457.7 685.0,458.1 690.0,459.5 692.0,520.0"/>
<path d="M585.5 515.5h0M453.3 516.5h0M593.2 477.6h0M536.5 489.3h0M587.3 502.0h0M506.6 467.7h0M613.9 494.0h0M547.8 491.8h0M498.3 499.7h0M587.2 494.6h0M660.6 449.9h0M498.3 511.3h0M557.6 503.5h0M544.5 506.7h0M499.3 494.8h0M430.1 507.3h0M586.6 482.8h0M673.4 468.3h0M537.4 512.6h0M561.8 439.6h0M569.8 437.0h0M497.8 484.1h0M556.8 486.3h0M517.9 468.1h0M585.9 468.1h0M478.7 514.1h0M611.4 435.9h0M461.9 503.3h0M681.3 484.6h0M610.3 492.6h0M545.8 500.9h0M514.7 514.9h0M622.6 448.3h0M566.5 420.1h0M524.6 508.1h0M585.8 471.6h0M523.9 465.0h0M602.3 469.4h0M546.7 465.1h0M624.7 428.2h0M672.0 484.0h0M488.9 486.2h0M670.3 456.0h0M491.0 491.7h0M661.2 453.0h0M635.6 470.8h0M498.0 477.8h0M575.3 508.3h0M438.7 506.2h0M587.9 418.4h0M429.6 488.6h0M479.7 510.5h0M556.6 467.5h0M576.2 504.7h0M487.6 504.7h0M518.3 500.3h0M634.8 443.6h0M661.3 490.8h0M670.0 472.2h0M479.7 451.0h0M590.8 507.8h0M672.6 479.5h0M660.1 494.4h0M432.5 497.2h0M537.2 483.9h0M626.0 496.8h0M477.6 490.6h0M557.7 478.5h0M566.2 455.0h0M682.2 432.4h0M589.6 479.5h0M566.5 495.6h0M561.2 420.6h0M613.2 495.3h0M545.9 500.7h0M559.5 461.8h0M588.7 445.1h0M586.0 491.2h0M682.9 510.7h0M563.4 457.7h0M574.9 495.0h0M660.2 441.9h0M627.1 430.8h0M660.1 381.5h0M586.0 476.5h0M516.2 474.0h0M634.4 496.3h0M586.5 516.2h0M536.1 483.1h0M611.6 465.3h0M625.9 495.3h0M566.6 467.8h0M438.5 499.7h0M546.5 502.5h0M549.4 500.2h0M679.8 483.7h0M537.7 504.8h0M527.2 478.2h0M647.9 495.3h0M439.8 443.4h0M631.1 443.9h0M577.1 496.8h0M600.8 489.4h0M576.4 497.3h0M469.8 513.3h0M614.0 499.8h0M658.8 449.9h0M527.7 473.7h0M504.2 464.9h0M625.7 494.1h0M520.6 460.3h0M567.3 458.8h0M490.8 492.7h0M551.3 425.8h0M601.6 508.0h0M604.1 482.6h0M530.3 493.6h0M600.3 491.3h0M590.2 493.8h0M602.6 460.0h0M670.7 457.4h0M528.6 499.2h0M659.4 500.2h0M584.8 398.2h0M464.7 433.2h0M610.7 396.1h0M558.3 509.5h0M508.9 467.4h0M660.7 494.1h0M626.8 499.2h0M431.0 498.7h0M537.8 495.5h0M625.1 472.1h0M596.4 452.9h0M613.6 503.8h0M672.5 456.1h0M636.4 497.9h0M681.4 498.3h0M491.6 440.9h0M489.2 492.8h0M500.5 500.5h0M590.9 512.9h0M586.3 507.0h0M567.5 477.7h0M609.2 424.4h0M508.9 508.9h0M680.4 503.4h0M529.9 497.7h0M539.2 385.3h0M528.3 509.8h0M566.8 482.6h0M557.3 471.3h0M467.0 480.6h0M611.9 498.2h0M610.5 469.6h0M511.1 431.5h0M575.8 466.0h0M453.0 458.5h0M469.7 505.1h0M612.5 469.4h0M543.3 487.8h0M535.9 476.2h0M614.1 455.6h0M624.8 500.5h0M425.0 471.7h0M557.0 464.3h0M470.1 501.8h0M546.3 467.2h0M646.4 467.7h0M668.5 449.7h0M488.1 509.0h0M423.2 501.1h0M526.2 446.2h0M674.9 472.4h0M556.8 510.8h0M660.2 487.0h0M622.7 446.4h0M425.4 515.0h0M653.8 513.5h0M546.0 493.1h0M649.7 459.5h0M671.8 470.4h0M621.3 403.0h0M628.8 375.2h0M454.2 513.6h0M538.3 469.5h0M586.8 510.8h0M446.4 500.1h0M606.0 381.3h0M567.2 409.7h0M445.5 489.5h0M660.2 512.6h0M450.1 482.8h0M508.5 494.9h0M608.6 470.6h0M516.1 466.8h0M607.2 483.2h0M615.0 438.7h0M515.9 490.4h0M480.9 504.1h0M497.1 503.6h0M670.2 500.0h0M534.6 460.1h0M647.4 456.2h0M586.6 495.2h0M647.0 481.3h0M609.5 447.1h0M424.5 516.9h0M493.7 464.6h0M609.9 476.0h0M415.2 516.2h0M669.0 494.7h0M541.1 480.1h0M534.7 463.5h0M579.4 456.7h0M625.4 491.1h0M422.7 501.8h0M470.6 492.2h0M477.5 470.2h0M677.7 501.4h0M500.8 496.6h0M673.6 446.1h0M431.7 488.3h0M590.8 494.4h0M454.3 503.8h0M681.8 490.2h0M566.3 461.5h0M438.5 511.2h0M601.6 460.3h0M505.7 491.0h0M515.3 481.7h0M508.8 513.1h0M586.0 451.6h0M669.3 434.2h0M670.2 443.6h0M447.7 480.3h0M683.2 420.4h0M623.8 514.4h0M603.1 478.7h0M466.9 492.0h0M612.6 484.0h0M636.4 441.9h0M654.4 469.8h0M534.8 507.7h0M672.4 505.8h0M478.3 478.3h0M639.2 457.0h0M488.5 514.3h0M558.5 434.8h0M621.6 440.6h0M586.6 471.6h0M672.9 438.9h0M546.0 459.0h0M604.3 403.9h0M566.6 492.6h0M517.7 499.7h0M673.5 449.6h0M612.1 508.6h0M482.6 469.1h0M585.9 474.7h0M566.2 472.7h0M434.7 471.6h0M656.1 508.4h0M547.7 490.9h0M682.0 510.7h0M644.5 436.7h0M527.7 483.0h0M603.2 440.0h0M528.7 481.8h0M527.6 504.3h0M478.7 485.2h0M612.3 438.3h0M612.1 484.3h0M586.6 489.2h0M486.4 512.6h0M492.4 495.1h0M648.1 492.9h0M625.7 465.3h0M589.8 486.5h0M603.0 490.9h0M586.1 511.8h0M538.8 507.9h0M671.8 490.4h0M617.7 439.4h0M586.3 479.9h0M595.2 487.9h0M428.3 495.5h0M681.7 448.0h0M477.1 477.2h0M575.7 461.4h0M569.7 421.1h0M586.4 509.0h0M491.0 478.5h0M671.8 455.5h0M536.2 501.1h0M566.1 403.2h0M477.7 478.8h0M498.9 505.3h0M539.3 511.7h0M660.9 450.0h0M416.1 509.7h0M625.7 499.4h0M637.3 490.4h0M586.3 476.8h0M519.8 464.2h0M671.1 503.0h0M631.4 408.5h0M439.7 504.0h0M615.5 443.7h0M621.3 512.4h0M516.6 478.5h0M684.5 437.0h0M566.2 505.0h0M681.7 436.6h0M683.3 501.7h0M609.4 506.2h0M650.7 499.5h0M596.7 403.1h0M649.2 467.8h0M648.1 475.6h0M598.9 483.4h0M601.6 467.5h0M545.6 475.7h0M660.8 459.8h0M682.4 491.3h0M477.4 477.5h0M567.9 493.9h0M513.1 505.9h0M661.2 512.0h0M671.3 464.0h0M682.5 458.7h0M458.9 485.5h0M431.7 494.6h0M627.4 452.1h0M633.3 495.4h0M682.2 435.0h0M671.3 493.2h0M430.6 504.4h0M568.2 408.8h0M507.2 485.9h0M566.2 404.0h0M514.9 475.7h0M684.0 455.0h0M555.2 462.4h0M467.6 506.3h0M647.4 466.9h0M687.3 409.9h0M508.0 511.8h0M534.4 456.9h0M587.2 507.2h0M672.8 461.3h0M682.0 507.7h0M557.7 458.2h0M506.7 500.8h0M612.0 451.3h0M558.0 476.3h0M655.6 508.6h0M660.3 467.2h0M495.9 496.6h0M608.9 451.4h0M517.0 486.0h0M598.8 514.2h0M487.4 491.5h0M453.6 485.4h0M439.5 496.7h0M497.9 509.3h0M576.5 454.4h0M469.3 479.6h0M656.6 489.2h0M528.8 509.5h0M509.8 488.7h0M551.8 456.2h0M527.1 491.2h0M461.8 497.0h0M498.5 496.7h0M566.9 513.1h0M525.5 489.9h0M567.5 502.0h0M634.9 505.7h0M476.4 480.5h0M636.7 479.6h0M586.7 515.5h0M670.7 421.3h0M447.1 504.3h0M681.2 436.4h0M660.8 509.5h0M516.1 466.5h0M611.6 429.2h0M479.3 501.7h0M557.2 463.2h0M516.2 478.9h0M640.2 449.7h0M499.8 476.6h0M675.2 417.8h0M577.7 481.7h0M481.4 442.2h0M448.2 504.1h0M650.3 500.5h0M658.5 463.0h0M498.3 494.2h0M499.6 508.3h0M672.1 463.4h0M651.6 483.4h0M430.4 507.2h0M525.3 499.5h0M460.5 484.0h0M554.2 453.8h0M635.6 470.1h0M607.7 440.5h0M477.4 484.3h0M535.3 461.6h0M586.2 512.7h0M682.3 481.1h0M469.0 500.7h0M516.9 466.0h0M620.1 447.0h0M518.3 470.0h0M423.1 503.9h0M521.1 475.8h0M576.2 487.8h0M517.5 500.4h0M563.4 507.3h0M586.9 464.7h0M565.6 442.5h0M469.7 514.5h0M458.3 505.7h0M658.3 474.2h0M560.0 458.1h0M619.1 421.2h0M527.9 494.2h0M573.7 461.9h0M611.9 444.0h0M672.5 508.6h0M563.4 431.9h0M613.4 502.0h0M671.4 427.3h0M557.4 461.3h0M489.0 515.4h0M554.8 504.7h0M536.2 504.2h0M467.1 483.3h0M623.1 461.1h0M659.6 450.8h0M490.9 490.8h0M489.5 490.4h0M613.3 450.3h0M603.2 451.9h0M577.8 485.2h0M492.9 423.9h0M577.2 515.6h0M648.9 418.6h0M526.8 502.4h0M610.2 467.2h0M488.5 484.5h0M438.0 492.5h0M635.7 498.8h0M586.7 476.4h0M650.2 377.9h0M470.2 464.0h0M627.6 511.5h0M429.9 510.0h0M648.2 476.5h0M556.4 476.4h0M430.8 491.7h0M614.1 429.2h0M599.7 446.8h0M516.3 459.3h0M497.3 481.9h0M539.0 465.9h0M589.9 464.8h0M576.1 484.7h0M546.3 502.0h0M679.3 491.7h0M575.2 485.1h0M538.9 479.1h0M588.9 514.7h0M446.0 514.6h0M682.7 506.7h0M499.4 479.0h0M557.0 485.9h0M612.4 456.9h0M647.8 490.9h0M528.1 441.6h0M499.7 459.0h0M647.7 492.0h0M596.4 428.1h0M590.0 484.0h0M685.0 484.4h0M688.5 390.1h0M648.4 505.5h0M459.2 512.1h0M527.2 511.3h0M489.4 503.2h0M632.9 435.1h0M498.1 469.1h0M557.2 481.9h0M638.5 459.3h0M559.9 478.9h0M649.4 499.1h0M649.6 458.0h0M680.6 494.3h0M428.2 491.9h0M622.9 499.3h0M537.1 472.0h0M594.6 437.0h0M512.1 485.2h0M627.0 432.8h0M468.8 501.5h0M459.2 509.2h0M638.6 379.1h0M477.3 497.9h0M590.3 509.0h0M515.5 468.5h0M625.3 448.3h0M661.0 476.2h0M517.3 514.5h0M459.1 508.5h0M564.1 459.1h0M490.2 483.7h0M649.6 487.6h0M557.2 468.3h0M672.0 469.3h0M600.7 496.4h0M683.5 446.5h0M592.3 395.5h0M637.4 499.7h0M479.3 499.9h0M623.0 481.2h0M593.8 451.7h0M589.3 513.1h0M576.7 416.3h0M590.2 474.5h0M577.1 481.6h0M610.3 383.3h0M670.5 479.1h0M486.7 490.3h0M529.6 486.2h0M467.5 490.4h0M546.0 472.3h0M588.1 501.3h0M679.5 413.1h0M534.1 457.1h0M507.4 471.6h0M643.5 417.1h0M428.7 514.0h0M544.3 478.9h0M602.8 507.9h0M464.4 442.3h0M548.0 476.9h0M586.0 485.2h0M578.8 435.9h0M590.7 468.9h0M435.2 497.3h0M437.0 491.4h0M456.3 510.5h0M604.1 469.1h0M600.4 480.4h0M458.1 508.6h0M582.7 408.9h0M651.4 454.2h0M675.4 415.9h0M663.5 390.9h0M459.1 514.5h0M684.8 445.4h0M590.4 499.7h0M588.9 464.3h0M512.9 458.6h0M623.3 462.4h0M470.2 511.2h0M495.1 434.5h0M487.0 495.0h0M685.5 466.9h0M548.8 506.6h0M500.4 436.8h0M662.1 515.5h0M662.4 515.2h0M661.2 469.9h0M684.4 513.5h0M657.8 439.8h0M498.8 474.5h0M537.5 452.7h0M429.9 507.5h0M425.4 496.1h0M539.4 439.0h0M489.1 512.5h0M576.2 416.0h0M637.0 446.8h0M441.4 472.5h0M682.3 492.2h0M673.6 482.1h0M635.9 451.5h0M601.2 461.2h0M460.9 485.5h0M557.5 466.9h0M488.3 491.9h0M534.0 461.2h0M612.5 510.0h0M454.1 487.5h0M648.3 446.6h0M422.7 508.5h0M548.6 492.0h0M639.6 455.2h0M577.4 469.8h0M526.7 505.1h0M684.6 477.6h0M589.0 464.0h0M430.5 507.8h0M558.2 483.4h0M647.4 461.0h0M509.8 501.5h0M681.1 476.6h0M500.5 493.8h0M507.5 510.4h0M681.8 486.3h0M439.3 494.1h0M636.5 477.4h0M637.4 515.4h0M683.9 476.1h0M640.1 464.2h0M517.2 468.2h0M480.4 507.7h0M658.6 471.6h0M538.4 482.2h0M608.3 450.7h0M683.1 445.3h0M528.6 483.1h0M613.0 491.6h0M479.4 474.9h0M471.8 475.5h0M455.6 463.9h0M612.2 505.1h0M633.0 499.4h0M611.2 468.8h0M486.6 482.5h0M505.0 486.1h0M658.6 510.5h0M449.4 489.7h0M539.8 492.8h0M506.9 484.6h0M458.7 475.3h0M477.3 516.6h0M575.6 499.5h0M448.0 504.7h0M626.4 442.1h0M547.4 477.2h0M684.5 426.0h0M610.3 479.4h0M672.0 496.8h0M573.4 425.1h0M526.9 445.1h0M564.8 494.8h0M468.0 490.9h0M634.2 477.2h0M566.8 515.8h0M509.8 468.5h0M681.7 514.3h0M591.1 420.5h0M625.2 481.2h0M495.9 509.3h0M672.6 473.5h0M527.4 462.9h0M626.9 452.7h0M613.2 462.7h0M568.3 461.0h0M437.3 495.6h0M547.7 498.9h0M612.0 478.1h0M548.8 459.5h0M513.2 464.8h0M526.3 487.4h0M470.4 500.3h0M466.6 494.7h0M563.1 420.9h0M545.5 498.2h0M625.0 515.6h0M622.5 476.2h0M663.4 494.6h0M581.1 394.9h0M587.2 465.0h0M671.8 485.6h0M669.5 457.2h0M507.9 471.5h0M538.2 486.7h0M461.6 487.2h0M563.2 456.8h0M648.9 495.7h0M622.8 465.6h0M676.3 485.0h0M590.9 480.0h0M558.0 514.0h0M586.9 489.1h0M508.4 486.8h0M680.5 476.6h0M640.6 474.2h0M660.8 472.8h0M538.4 507.8h0M669.4 462.7h0M536.3 507.0h0M649.7 452.9h0M681.4 496.6h0M556.0 465.0h0M482.2 445.2h0M477.4 496.6h0M585.0 456.5h0M625.2 511.6h0M421.7 511.7h0M445.2 500.6h0M438.9 503.6h0M648.2 456.8h0M499.3 480.1h0M625.7 497.3h0M569.3 491.0h0M516.6 469.0h0M672.1 511.2h0M624.5 474.9h0M507.8 511.2h0M603.6 453.5h0M586.0 498.3h0M647.9 497.5h0M557.4 485.0h0M657.1 490.6h0M573.2 448.8h0M659.3 477.9h0M489.8 513.7h0M672.6 461.0h0M447.2 496.7h0M555.4 436.9h0M478.6 491.5h0M526.0 493.6h0M590.8 453.2h0M438.2 511.9h0M477.2 516.2h0M486.4 492.9h0M636.0 506.0h0M509.0 491.8h0M497.7 481.2h0M635.6 507.7h0M471.3 505.3h0M585.5 516.2h0M657.4 416.8h0M601.2 461.7h0M546.6 489.5h0M670.7 473.9h0M590.2 433.3h0M610.9 514.4h0M498.9 486.2h0M634.5 472.2h0M447.1 502.4h0M682.6 504.5h0M539.1 476.7h0M536.9 434.2h0M670.1 510.6h0M439.2 504.1h0M537.4 482.9h0M669.1 478.1h0M444.5 497.3h0M446.4 489.6h0M603.2 484.7h0M623.7 503.1h0M480.6 483.0h0M608.8 509.7h0M438.5 460.3h0M556.6 501.5h0M611.9 466.3h0M577.0 484.4h0M638.1 373.9h0M479.2 483.8h0M671.9 514.5h0M438.6 513.5h0M682.4 464.1h0M679.3 448.8h0M533.4 397.7h0M497.0 485.4h0M468.5 478.7h0M537.0 498.6h0M650.3 461.7h0M668.3 497.7h0M545.5 489.4h0M572.2 407.4h0M469.5 498.2h0M544.9 497.4h0M664.9 391.0h0M574.9 479.9h0M627.8 457.9h0M468.2 481.8h0M500.7 487.3h0M565.4 434.5h0M598.4 457.0h0M516.0 466.0h0M557.5 480.4h0M480.9 508.4h0M566.9 476.8h0M688.8 389.0h0M680.9 461.7h0M589.1 476.2h0M637.6 506.4h0M623.7 475.8h0M624.0 445.2h0M544.7 481.7h0M447.8 512.0h0M602.9 482.8h0M629.8 426.4h0M614.4 496.6h0M517.6 492.5h0M586.3 494.6h0M476.7 511.5h0M471.8 506.7h0M635.0 457.0h0M499.3 429.0h0M563.6 437.8h0M567.4 460.4h0M470.4 485.4h0M647.3 507.8h0M647.4 416.8h0M487.3 488.8h0M477.9 497.7h0M684.9 506.6h0M472.8 450.7h0M587.6 459.0h0M590.9 405.0h0M504.3 464.9h0M555.9 478.7h0M544.8 498.9h0M559.1 449.6h0M499.8 481.8h0M458.9 498.1h0M508.6 514.8h0M527.7 478.8h0M591.1 466.6h0M415.0 516.8h0M535.4 473.8h0M586.4 500.7h0M599.1 471.0h0M586.4 471.5h0M516.9 465.4h0M568.1 508.8h0M669.9 503.4h0M586.1 507.3h0M498.4 495.7h0M478.1 508.6h0M623.9 486.1h0M443.6 452.2h0M635.4 493.6h0M609.9 492.7h0M535.1 462.3h0M625.7 465.0h0M602.8 429.1h0M586.0 462.9h0M589.0 483.9h0M537.1 497.6h0M570.3 428.0h0M635.4 490.8h0M587.7 507.0h0M661.3 474.0h0M592.2 516.7h0M526.7 502.7h0M601.0 465.1h0M536.6 476.4h0M575.1 483.4h0M602.0 501.8h0M649.9 464.5h0M631.1 431.3h0M459.6 486.6h0M635.9 447.7h0M516.4 511.9h0M682.6 450.7h0M458.8 488.7h0M460.4 503.5h0M657.3 431.8h0M669.2 513.4h0M671.8 460.7h0M591.3 453.8h0M444.4 499.3h0M625.0 516.4h0M447.3 504.8h0M565.9 491.9h0M575.8 512.8h0M471.7 505.9h0M585.6 454.1h0M439.9 500.6h0M557.2 458.0h0M489.7 485.1h0M458.0 481.1h0M622.3 474.2h0M508.9 486.2h0M636.3 469.4h0M683.5 507.6h0M667.3 419.5h0M476.4 500.5h0M647.9 460.4h0M658.2 446.6h0M660.6 503.9h0M670.8 513.8h0M566.8 468.9h0M496.5 484.1h0M452.7 493.1h0M516.7 501.3h0M527.7 462.9h0M671.1 462.1h0M660.1 498.5h0M682.5 431.3h0M517.8 477.9h0M602.3 388.2h0M659.7 467.3h0M520.4 464.3h0M516.9 495.3h0M528.9 489.9h0M611.6 398.1h0M545.4 471.0h0M659.2 453.2h0M556.1 504.4h0M636.0 447.6h0M564.4 464.7h0M518.1 501.2h0M586.4 512.5h0M648.7 443.2h0M612.0 499.2h0M648.8 496.2h0M467.7 498.5h0M525.9 504.6h0M639.2 507.2h0M528.9 516.3h0M460.3 509.2h0" stroke="#07304a" stroke-opacity="0.85" stroke-width="6.8" stroke-linecap="round" fill="none"/>
<path d="M654.7 401.7h0M461.4 506.8h0M594.0 388.8h0M547.2 487.3h0M591.1 514.7h0M650.1 428.9h0M415.4 484.0h0M615.5 447.6h0M489.5 465.2h0M672.9 496.4h0M682.3 463.2h0M557.8 493.6h0M647.6 510.7h0M516.9 514.3h0M611.4 471.4h0M460.8 496.3h0M470.2 491.2h0M422.3 511.2h0M613.3 480.2h0M649.4 483.4h0M672.2 444.8h0M671.6 464.8h0M648.1 423.4h0M679.2 484.5h0M576.8 476.3h0M668.3 488.0h0M456.7 479.2h0M477.4 484.6h0M622.5 491.2h0M612.4 479.4h0M586.6 483.9h0M585.2 459.1h0M511.6 462.4h0M667.8 381.8h0M586.1 500.0h0M476.8 480.6h0M439.2 516.3h0M564.6 490.0h0M437.5 475.8h0M528.4 504.9h0M488.0 511.1h0M606.8 432.5h0M551.9 443.4h0M520.1 464.8h0M578.0 494.4h0M498.8 469.9h0M587.0 481.2h0M423.3 502.7h0M576.6 463.9h0M673.5 517.0h0M592.5 439.1h0M603.2 478.8h0M657.9 456.8h0M666.8 440.4h0M619.5 399.8h0M657.8 480.5h0M555.7 456.6h0M576.2 385.2h0M682.8 434.7h0M681.6 485.0h0M636.2 487.1h0M591.1 494.4h0M682.6 446.1h0M682.3 497.6h0M556.3 489.9h0M556.6 494.9h0M518.4 470.7h0M486.9 477.5h0M465.6 423.7h0M445.5 504.3h0M670.5 499.4h0M586.8 481.6h0M556.4 491.3h0M536.8 488.9h0M536.5 466.8h0M627.9 379.1h0M528.5 484.1h0M517.4 475.1h0M519.7 483.2h0M679.8 449.1h0M657.7 472.2h0M529.5 466.0h0M536.3 513.1h0M455.5 514.9h0M661.3 398.3h0M661.4 417.4h0M575.1 512.6h0M611.3 448.7h0M499.1 481.0h0M456.1 475.7h0M577.5 463.4h0M672.3 440.8h0M558.9 457.7h0M576.6 468.9h0M454.9 510.1h0M638.1 471.6h0M539.0 503.7h0M567.6 470.5h0M453.5 514.2h0M636.8 512.9h0M589.3 483.2h0M498.9 491.8h0M673.9 374.5h0M659.8 477.4h0M575.6 467.4h0M431.1 511.7h0M561.3 379.7h0M673.3 497.5h0M534.3 490.7h0M660.3 468.3h0M453.5 493.1h0M648.8 471.2h0M586.9 489.0h0M623.8 487.0h0M568.4 409.5h0M537.8 465.1h0M453.3 484.2h0M588.6 459.8h0M576.5 476.8h0M442.4 484.7h0M683.7 467.2h0M558.3 437.9h0M602.4 469.1h0M625.2 455.1h0M454.2 460.5h0M672.6 400.9h0M598.7 493.5h0M459.1 511.2h0M518.9 484.3h0M453.9 489.4h0M508.1 513.3h0M524.3 509.5h0M545.1 462.1h0M656.1 437.4h0M429.8 461.0h0M625.1 464.0h0M590.5 457.5h0M645.4 499.6h0M411.1 506.4h0M543.9 497.7h0M618.4 406.9h0M634.0 472.7h0M528.1 480.5h0M534.6 492.8h0M488.2 509.6h0M415.1 508.9h0M615.1 464.8h0M586.5 453.5h0M605.6 478.4h0M576.0 516.0h0M672.8 478.6h0M517.7 511.8h0M635.8 516.2h0M567.2 430.1h0M469.7 492.7h0M585.7 508.1h0M468.1 509.6h0M600.4 450.8h0M597.3 506.5h0M454.2 489.1h0M566.4 472.1h0M425.7 506.2h0M671.2 471.8h0M556.6 463.2h0M424.2 513.2h0M575.5 478.4h0M603.4 509.4h0M657.1 396.5h0M600.7 501.7h0M480.5 515.3h0M415.9 507.8h0M680.4 492.3h0M546.2 496.9h0M590.4 457.6h0M445.8 495.9h0M651.2 434.3h0M682.5 511.2h0M683.4 452.6h0M660.0 441.2h0M416.5 507.1h0M623.6 485.1h0M447.2 486.0h0M603.5 493.5h0M546.5 503.4h0M614.7 478.1h0M458.8 511.0h0M683.8 495.8h0M563.7 458.6h0M683.4 494.6h0M528.5 475.3h0M635.6 452.5h0M658.9 488.3h0M648.7 452.8h0M516.9 483.4h0M554.4 485.7h0M480.3 497.5h0M525.7 478.8h0M637.0 504.5h0M576.7 513.8h0M634.3 493.7h0M608.6 438.8h0M564.4 492.5h0M548.0 485.6h0M612.3 451.1h0M672.8 445.0h0M477.9 502.3h0M496.8 499.3h0M686.3 372.0h0M506.9 512.5h0M681.3 510.0h0M565.0 439.5h0M603.4 402.8h0M560.0 469.6h0M664.5 388.3h0M485.4 444.2h0M647.8 465.2h0M536.9 501.2h0M657.8 410.9h0M586.9 453.8h0M658.6 510.6h0M672.8 471.4h0M626.5 463.6h0M494.2 462.7h0M545.8 489.5h0M588.2 478.0h0M509.2 499.3h0M585.0 440.1h0M518.1 493.9h0M566.5 393.6h0M628.7 438.4h0M507.4 503.5h0M473.3 457.0h0M576.3 456.1h0M642.4 438.2h0M594.5 516.6h0M586.1 467.9h0M547.3 467.1h0M659.9 508.2h0M649.7 487.2h0M650.4 416.8h0M496.1 509.9h0M490.4 485.8h0M537.7 512.8h0M637.5 434.4h0M684.8 420.2h0M635.3 456.2h0M548.6 449.0h0M611.1 513.1h0M647.7 448.5h0M525.9 515.3h0M611.4 496.9h0M527.7 467.1h0M637.1 510.5h0M545.5 501.1h0M515.4 478.6h0M598.9 473.2h0M550.4 433.9h0M610.0 504.7h0M587.2 469.3h0M522.7 436.9h0M424.1 505.9h0M660.5 443.7h0M627.2 468.7h0M659.3 453.4h0M453.7 501.6h0M566.7 510.5h0M444.3 505.1h0M633.9 503.9h0M585.5 477.6h0M577.5 495.1h0M640.3 471.6h0M623.4 433.3h0M681.6 487.4h0M547.6 448.2h0M453.8 502.3h0M497.4 507.4h0M575.9 491.0h0M515.3 488.1h0M522.8 422.6h0M626.6 455.6h0M674.2 491.2h0M446.4 514.0h0M557.0 458.3h0M500.9 471.3h0M556.7 460.6h0M655.6 366.9h0M566.9 512.5h0M481.6 439.2h0M506.0 473.8h0M557.5 499.3h0M506.4 476.5h0M447.5 495.7h0M600.8 512.3h0M636.6 513.5h0M675.0 431.4h0M648.6 465.5h0M534.0 441.6h0M544.0 485.6h0M602.6 501.1h0M537.0 493.4h0M518.2 465.6h0M568.2 475.5h0M556.8 387.5h0M637.3 487.2h0M635.1 447.8h0M680.7 478.8h0M670.1 471.8h0M637.2 461.2h0M612.1 505.8h0M642.6 397.7h0M536.2 493.3h0M460.7 482.9h0M678.4 440.5h0M586.2 499.2h0M682.0 458.5h0M460.9 508.7h0M436.5 493.4h0M612.3 496.8h0M661.2 464.5h0M577.4 450.4h0M413.3 511.9h0M513.2 479.2h0M550.4 449.7h0M422.9 516.6h0M615.5 509.6h0M671.5 484.0h0M538.2 486.1h0M658.8 451.1h0M658.0 487.0h0M453.3 497.4h0M620.0 442.0h0M496.4 514.2h0M444.3 489.4h0M437.4 495.0h0M656.9 454.0h0M624.0 457.3h0M548.1 469.6h0M586.3 494.1h0M584.7 449.7h0M538.4 513.1h0M565.5 514.6h0M650.1 480.8h0M576.7 479.8h0M609.3 457.0h0M507.9 513.9h0M683.0 478.2h0M602.8 464.5h0M564.7 476.1h0M565.2 494.6h0M570.2 440.3h0M577.1 409.2h0M454.5 496.5h0M586.5 496.5h0M589.5 511.8h0M579.1 508.2h0M623.9 483.7h0M632.7 428.1h0M624.9 480.6h0M454.6 499.6h0M524.1 459.4h0M478.5 499.0h0M586.6 471.9h0M548.2 437.5h0M556.1 508.3h0M505.3 500.9h0M412.9 510.4h0M514.0 414.3h0M508.2 475.8h0M649.8 417.3h0M603.1 497.6h0M452.9 485.9h0M490.1 502.5h0M640.5 472.0h0M488.6 490.2h0M527.1 394.5h0M608.3 454.5h0M681.5 509.4h0M573.9 455.8h0M650.7 452.1h0M506.7 475.0h0M586.8 502.5h0M526.3 484.6h0M458.4 512.0h0M556.4 490.3h0M649.7 400.8h0M565.9 512.6h0M586.1 470.7h0M673.5 443.0h0M505.8 505.0h0M590.0 483.9h0M668.6 437.5h0M669.1 485.7h0M458.0 509.4h0M625.2 445.7h0M603.6 454.1h0M600.8 499.1h0M672.6 509.0h0M453.1 487.5h0M624.0 487.3h0M520.8 502.5h0M671.4 449.6h0M567.3 475.2h0M552.1 396.0h0M660.4 502.4h0M648.3 506.3h0M496.6 486.1h0M559.3 410.6h0M600.8 501.9h0M454.4 504.9h0M492.9 472.4h0M586.1 498.7h0M671.7 459.4h0M504.3 492.4h0M683.9 486.0h0M658.8 447.1h0M548.5 463.2h0M488.4 516.3h0M496.6 483.5h0M671.3 462.1h0M514.5 475.3h0M625.1 455.6h0M454.3 492.6h0M683.4 481.3h0M639.1 512.2h0M671.2 431.5h0M669.4 473.7h0M422.7 511.2h0M555.7 482.2h0M577.6 457.3h0M508.6 483.1h0M514.7 483.9h0M518.9 515.9h0M523.1 439.4h0M586.4 493.2h0M488.1 500.3h0M649.4 498.9h0M460.1 512.3h0M498.4 472.8h0M546.5 498.0h0M589.0 477.9h0M511.4 493.4h0M647.7 512.5h0M613.4 502.2h0M649.2 485.8h0M566.0 495.3h0M653.4 387.6h0M647.6 457.6h0M598.8 492.0h0M576.6 488.4h0M611.7 489.6h0M476.0 448.9h0M645.9 381.9h0M665.8 382.9h0M506.3 473.5h0M517.8 508.5h0M634.2 465.6h0M526.3 494.5h0M577.4 469.8h0M681.6 449.3h0M592.3 508.0h0M599.8 493.5h0M526.5 483.5h0M557.1 457.9h0M670.7 496.2h0M624.2 495.9h0M566.8 461.5h0M586.5 488.1h0M590.3 476.4h0M652.4 516.5h0M624.4 458.4h0M561.4 443.2h0M414.3 511.3h0M669.2 480.0h0M639.7 484.1h0M488.6 501.9h0M636.2 503.1h0M629.0 379.7h0M557.3 483.4h0M535.6 460.6h0M682.0 450.3h0M507.9 498.3h0M625.2 492.5h0M613.0 442.1h0M507.4 485.4h0M685.3 478.9h0M526.6 463.5h0M649.3 492.8h0M417.8 500.9h0M551.8 447.6h0M437.2 515.1h0M602.3 453.8h0M528.3 516.7h0M545.7 466.2h0M680.9 480.6h0M609.2 421.3h0M674.1 438.7h0M587.4 490.4h0M568.4 497.5h0M478.8 477.3h0M500.0 492.3h0M585.6 480.5h0M574.5 475.5h0M480.4 473.5h0M576.4 467.1h0M565.9 497.9h0M661.3 443.9h0M612.1 377.0h0M623.6 469.5h0M672.2 469.3h0M600.9 461.6h0M599.5 474.2h0M453.8 502.3h0M564.9 476.9h0M489.0 473.7h0M588.2 498.7h0M549.2 488.1h0M602.1 447.3h0M558.7 508.4h0M537.9 485.5h0M458.8 501.7h0M514.5 509.4h0M486.6 512.9h0M579.6 444.7h0M669.1 506.8h0M517.0 485.6h0M622.3 404.9h0M635.5 470.8h0M682.4 503.8h0M656.1 424.5h0M588.1 461.3h0M648.9 455.5h0M586.1 487.2h0M520.6 459.3h0M586.6 482.9h0M536.4 483.8h0M657.6 459.3h0M663.3 488.7h0M586.5 451.7h0M596.8 452.9h0M659.4 488.9h0M453.5 506.4h0M614.0 432.4h0M562.7 455.2h0M611.2 497.9h0M671.2 451.5h0M649.5 460.7h0M623.0 483.2h0M625.4 460.6h0M558.6 441.0h0M660.3 475.4h0M565.8 462.6h0M517.8 506.9h0M636.0 486.2h0M529.7 496.7h0M599.4 480.5h0M507.4 511.2h0M566.6 481.4h0M424.0 500.5h0M586.5 489.6h0M507.1 469.3h0M517.7 500.8h0M470.1 502.1h0M557.0 495.7h0M438.0 515.4h0M526.3 515.1h0M563.9 456.8h0M580.6 432.0h0M611.3 453.6h0M649.8 509.8h0M453.3 482.8h0M666.5 427.2h0M558.9 474.2h0M671.0 469.5h0M611.2 485.9h0M671.9 510.1h0M546.5 500.5h0M537.7 491.1h0M625.8 461.0h0M680.4 436.3h0M574.4 515.8h0M658.7 468.1h0M623.2 466.1h0M680.3 450.3h0M567.9 503.4h0M424.5 499.0h0M518.1 469.8h0M622.4 412.3h0M643.7 435.4h0M672.1 483.7h0M585.9 488.7h0M657.2 452.4h0M471.2 484.5h0M657.8 452.6h0M665.3 413.2h0M421.9 495.3h0M429.4 515.6h0M494.1 472.5h0M601.8 457.4h0M555.9 463.2h0M477.1 516.4h0M470.2 499.1h0M659.9 479.4h0M515.5 495.8h0M577.4 425.8h0M575.2 501.3h0M526.5 509.1h0M438.3 516.5h0M673.0 465.8h0M497.2 491.6h0M625.5 472.4h0M586.5 456.5h0M431.9 510.5h0M602.9 491.9h0M527.0 489.4h0M660.7 446.6h0M632.3 429.4h0M430.0 512.6h0M609.4 449.1h0M589.3 460.7h0M637.3 506.1h0M648.3 504.3h0M486.7 509.8h0M477.8 484.3h0M636.0 481.9h0M438.0 497.2h0M574.3 455.1h0M648.5 502.8h0M684.0 445.5h0M489.8 513.1h0M582.4 432.1h0M590.8 480.0h0M638.5 450.5h0M601.6 451.6h0M457.8 510.3h0M625.7 447.3h0M636.0 515.6h0M446.2 491.6h0M586.2 481.0h0M545.0 476.7h0M515.7 476.4h0M529.0 468.3h0M569.6 462.8h0M670.0 459.2h0M647.0 497.6h0M569.9 471.8h0M614.0 470.4h0M586.6 483.0h0M564.4 508.7h0M659.7 500.3h0M563.3 475.9h0M556.6 445.7h0M648.3 480.0h0M580.4 387.8h0M586.6 477.6h0M585.7 462.1h0M416.6 509.9h0M493.0 431.0h0M658.7 494.4h0M657.6 415.4h0M577.5 467.5h0M659.6 489.6h0M566.6 487.7h0M648.9 457.1h0M453.7 501.0h0M536.7 505.7h0M460.1 504.5h0M566.3 464.3h0M613.3 472.7h0M666.0 435.5h0M431.0 513.8h0M668.1 381.0h0M568.6 420.2h0M538.6 419.7h0M588.2 488.2h0M644.9 445.2h0M586.6 493.1h0M575.2 468.8h0M617.5 399.0h0M671.7 439.8h0M554.9 507.7h0M634.6 482.2h0M536.3 472.3h0M567.3 493.4h0M590.7 452.4h0M545.1 443.0h0M637.0 459.4h0M576.4 493.5h0M681.5 439.1h0M458.9 514.9h0M624.7 516.8h0M500.7 479.3h0M619.9 433.0h0M659.4 441.0h0M479.2 445.7h0M517.8 468.1h0M559.4 491.7h0M575.1 512.0h0M683.5 515.4h0M590.2 501.1h0M528.8 470.7h0M546.0 477.6h0M628.2 440.2h0M438.6 506.8h0M661.4 448.0h0M671.5 505.4h0M479.0 500.1h0M517.5 501.9h0M675.3 398.4h0M595.9 408.5h0M519.0 494.9h0M454.4 515.2h0M588.1 501.4h0M585.7 456.9h0M538.2 482.7h0M564.4 457.1h0M635.7 497.0h0M625.3 487.3h0M461.9 505.9h0M586.0 512.4h0M670.6 500.7h0M571.3 434.0h0M474.7 481.1h0M684.7 513.5h0M508.0 507.3h0M479.7 504.7h0M420.5 468.2h0M527.9 470.5h0M672.0 483.8h0M433.9 502.1h0M469.2 485.9h0M549.6 485.4h0M417.9 499.3h0M527.0 516.7h0M648.4 509.0h0M659.2 507.1h0M506.4 469.3h0M649.8 444.0h0M566.7 471.1h0M645.8 424.1h0M547.6 471.4h0M613.7 449.0h0M486.4 485.0h0M613.1 482.9h0M634.7 486.5h0M671.7 452.0h0M568.2 419.5h0M644.4 438.3h0M612.6 444.2h0M637.2 480.1h0M647.0 473.2h0M454.2 503.6h0M622.7 503.7h0M576.3 464.0h0M477.8 516.7h0M567.2 491.3h0M470.3 511.9h0M685.8 484.9h0M646.1 446.0h0M548.0 466.2h0M494.5 438.0h0M649.5 472.2h0M431.7 494.8h0M617.7 402.5h0M555.7 490.2h0M578.4 493.4h0M648.9 460.0h0M647.7 498.2h0M683.1 491.0h0M624.2 485.1h0M685.1 499.1h0M423.2 510.7h0M586.2 507.6h0M637.8 509.5h0M556.8 500.3h0M470.6 481.5h0M599.5 512.2h0M612.3 466.3h0M661.4 452.2h0M536.9 481.5h0M658.7 413.6h0M543.3 443.7h0M498.2 503.8h0M440.3 500.2h0M546.2 463.0h0M635.3 446.8h0M634.2 501.6h0M666.3 421.5h0M555.8 486.2h0M469.8 489.8h0M487.7 476.1h0M439.2 494.9h0M415.7 475.3h0M487.3 437.2h0M670.2 515.4h0M636.2 467.5h0M682.1 454.2h0M591.5 470.3h0M536.6 500.4h0M498.8 511.9h0M553.9 479.7h0M672.9 460.7h0M457.1 481.9h0M483.2 462.0h0M547.2 425.8h0M610.8 498.7h0M675.9 440.6h0M507.2 490.1h0M588.6 472.3h0M624.2 468.1h0M658.7 446.0h0M656.3 462.0h0M673.4 488.3h0M640.0 439.6h0M563.8 460.0h0M678.7 500.4h0M660.6 429.0h0M672.2 491.6h0M429.5 506.9h0M578.5 494.1h0M432.7 495.1h0M457.7 512.4h0M666.7 418.9h0M591.7 491.3h0M567.7 458.0h0M647.5 443.6h0M604.1 503.9h0M477.8 485.7h0M682.5 423.2h0M603.6 493.6h0M526.5 478.3h0M636.0 452.4h0M635.9 489.8h0M626.3 501.0h0M505.6 461.9h0M508.8 512.8h0M657.5 488.0h0M649.5 485.5h0M684.0 465.9h0M657.3 502.7h0M498.3 504.4h0M603.0 493.3h0M681.0 429.2h0M681.4 494.2h0M612.4 463.6h0M602.1 453.8h0M636.5 486.7h0M601.4 456.0h0M528.2 508.9h0M672.8 479.4h0M453.5 495.4h0M508.1 501.1h0M610.4 501.0h0M431.4 503.0h0M680.6 452.9h0M509.6 501.5h0M566.6 456.2h0M565.2 484.4h0M545.0 475.3h0M566.7 480.3h0M601.6 484.7h0M478.1 480.8h0M546.0 506.5h0M477.4 475.8h0M649.2 510.5h0M576.8 479.7h0M601.6 481.9h0M586.2 473.6h0M648.4 505.0h0M567.3 468.3h0M647.9 488.9h0M437.7 503.3h0M648.6 467.2h0M574.2 481.7h0M658.7 497.6h0M494.2 489.2h0M609.5 515.4h0M432.1 513.3h0M680.8 500.5h0M424.7 501.5h0M431.6 506.0h0M586.1 484.8h0M672.2 418.8h0M607.1 409.9h0M461.3 483.9h0M502.3 468.5h0M602.9 494.2h0M587.7 513.9h0M542.8 460.9h0M681.6 492.8h0M587.8 500.0h0M602.6 493.6h0M557.8 516.0h0M649.0 402.3h0M600.3 472.8h0M575.1 472.9h0M657.9 432.8h0M558.6 475.6h0M624.7 481.7h0M619.8 437.7h0M577.6 408.1h0M635.2 479.9h0M622.6 484.8h0M526.7 489.8h0M669.3 483.4h0M571.4 445.3h0M568.2 476.8h0M526.0 468.5h0M536.5 507.2h0M515.3 493.2h0M525.8 486.6h0M626.2 451.6h0M535.5 488.2h0M645.9 475.6h0M669.7 500.6h0M599.8 486.3h0M595.0 453.0h0M555.9 505.2h0M575.2 476.0h0M681.3 440.5h0M602.6 483.3h0M647.5 485.4h0M655.1 422.9h0M660.5 469.7h0" stroke="#07304a" stroke-opacity="0.85" stroke-width="6.8" stroke-linecap="round" fill="none"/>
<path d="M569.1 434.6h0M490.1 510.6h0M540.3 481.1h0M466.6 499.4h0M611.5 474.4h0M660.3 456.1h0M571.4 449.0h0M537.2 465.7h0M624.4 482.4h0M668.6 500.8h0M453.7 494.0h0M649.9 493.0h0M517.3 442.6h0M498.5 509.9h0M585.7 509.9h0M461.1 495.3h0M490.1 491.8h0M477.0 449.1h0M650.2 487.1h0M488.0 474.1h0M529.4 509.3h0M469.5 480.5h0M658.4 510.0h0M577.1 467.5h0M662.8 407.7h0M616.1 469.5h0M616.2 453.6h0M429.1 511.3h0M621.5 500.2h0M603.7 482.6h0M480.7 488.5h0M488.9 488.9h0M508.9 485.0h0M600.9 503.4h0M636.6 483.3h0M547.1 499.0h0M567.5 495.7h0M587.8 449.5h0M681.3 456.3h0M600.5 481.0h0M530.5 485.4h0M528.7 466.0h0M655.8 445.8h0M428.8 507.6h0M489.3 485.5h0M429.6 474.3h0M534.4 500.6h0M565.6 486.6h0M638.5 501.2h0M404.0 519.7h0M576.5 460.2h0M555.3 514.0h0M440.5 500.3h0M539.0 509.8h0M537.2 499.3h0M550.4 489.5h0M623.8 469.2h0M540.0 507.2h0M648.8 451.4h0M518.2 494.4h0M506.7 485.4h0M430.3 509.7h0M539.8 515.8h0M438.8 497.5h0M586.2 498.5h0M507.0 480.5h0M567.6 510.7h0M590.4 501.9h0M537.8 490.6h0M507.0 472.3h0M566.4 498.6h0M528.3 481.8h0M647.6 464.4h0M637.1 506.1h0M458.9 491.9h0M423.2 476.4h0M589.4 487.9h0M565.3 493.6h0M564.6 391.6h0M685.1 435.9h0M541.8 458.4h0M656.8 502.8h0M613.1 500.8h0M613.1 515.1h0M507.8 505.7h0M461.4 487.0h0M529.1 469.7h0M546.1 505.3h0M478.9 501.6h0M601.8 448.8h0M648.9 426.1h0M516.5 496.5h0M586.6 492.4h0M516.9 487.4h0M535.7 462.8h0M573.6 415.8h0M683.4 444.4h0M600.7 448.8h0M593.4 433.5h0M661.4 505.1h0M589.4 389.4h0M683.0 438.9h0M466.8 500.1h0M488.0 480.6h0M626.8 459.1h0M637.8 472.9h0M648.5 466.8h0M458.3 486.8h0M637.4 497.3h0M603.5 511.2h0M599.7 456.4h0M657.4 497.0h0M636.6 475.5h0M623.3 511.3h0M586.1 485.5h0M597.8 391.6h0M475.7 486.5h0M566.3 478.6h0M437.6 493.7h0M658.2 464.8h0M438.8 513.5h0M575.4 469.0h0M500.1 471.1h0M455.6 500.5h0M658.9 406.3h0M607.5 468.2h0M452.1 512.3h0M613.0 460.3h0M681.4 476.2h0M590.2 482.4h0M601.1 460.4h0M619.7 445.7h0M538.6 500.8h0M424.6 463.5h0M612.3 489.2h0M518.1 506.9h0M431.2 512.7h0M606.0 426.5h0M672.6 493.5h0M556.7 459.6h0M485.1 426.6h0M476.0 513.4h0M625.5 511.5h0M575.8 478.7h0M576.9 454.3h0M623.8 465.7h0M612.2 472.7h0M517.6 474.5h0M539.7 503.5h0M538.5 422.9h0M625.0 426.6h0M632.1 439.5h0M681.3 474.6h0M537.1 474.8h0M509.2 483.1h0M518.7 479.1h0M448.5 506.4h0M683.8 478.8h0M491.8 487.0h0M623.1 492.8h0M412.6 495.6h0M671.3 488.5h0M455.3 470.0h0M556.2 491.9h0M448.2 501.0h0M586.3 468.4h0M568.4 493.5h0M673.2 516.4h0M531.1 431.5h0M506.3 497.0h0M582.0 423.7h0M507.1 497.9h0M545.1 466.3h0M600.3 464.0h0M460.0 506.1h0M660.0 494.9h0M636.1 462.0h0M650.2 511.9h0M488.9 497.7h0M680.6 491.6h0M586.3 469.4h0M680.8 478.6h0M586.7 457.6h0M526.9 514.1h0M662.9 442.4h0M532.5 391.7h0M469.7 485.2h0M516.2 497.2h0M478.7 485.4h0M603.6 516.1h0M545.3 505.1h0M681.9 493.2h0M585.9 475.6h0M612.0 502.4h0M624.2 468.1h0M613.5 451.3h0M618.1 435.7h0M499.3 481.9h0M447.8 514.7h0M601.7 488.5h0M469.2 481.4h0M668.4 431.6h0M586.2 493.9h0M528.5 483.7h0M498.8 481.1h0M594.5 417.8h0M586.5 496.0h0M497.2 489.1h0M568.1 496.1h0M496.7 486.6h0M650.7 496.8h0M497.7 512.1h0M586.6 507.0h0M444.8 488.3h0M476.1 478.1h0M469.0 508.3h0M648.7 479.6h0M634.4 466.3h0M574.7 499.7h0M613.1 488.2h0M659.1 452.7h0M650.3 399.4h0M497.7 471.6h0M624.6 511.5h0M647.4 392.2h0M416.5 506.0h0M589.8 460.7h0M602.2 469.0h0M469.2 490.5h0M425.9 482.9h0M577.6 486.2h0M656.6 458.5h0M586.6 492.4h0M547.5 487.4h0M422.1 504.2h0M466.4 509.0h0M545.5 500.7h0M656.8 465.6h0M446.4 516.9h0M575.1 464.0h0M577.1 475.7h0M586.3 454.8h0M635.0 464.1h0M498.2 496.4h0M650.7 396.5h0M634.5 407.0h0M648.5 507.6h0M636.5 496.0h0M445.3 490.4h0M648.6 498.0h0M460.3 482.3h0M431.5 500.8h0M637.7 452.0h0M586.2 451.4h0M446.8 509.2h0M599.6 419.1h0M632.3 384.3h0M538.7 467.1h0M437.8 491.9h0M624.3 477.1h0M678.8 513.5h0M574.1 488.8h0M548.8 486.8h0M585.9 502.8h0M444.4 453.9h0M498.5 508.0h0M611.1 499.2h0M640.7 437.0h0M528.1 491.3h0M474.9 483.3h0M490.0 482.5h0M648.9 503.4h0M625.3 463.0h0M534.4 466.6h0M495.8 470.1h0M469.8 505.0h0M402.8 517.7h0M466.4 506.1h0M471.6 458.5h0M516.6 505.8h0M585.9 493.5h0M667.7 425.2h0M557.4 505.3h0M667.1 407.4h0M646.0 472.5h0M647.6 489.5h0M648.8 465.3h0M470.8 509.8h0M624.6 487.2h0M680.3 499.3h0M506.3 472.6h0M577.2 488.2h0M416.8 505.8h0M576.9 470.8h0M423.7 507.4h0M673.3 443.4h0M628.8 438.5h0M625.3 467.5h0M650.1 479.4h0M624.6 516.9h0M603.0 509.2h0M558.6 484.0h0M575.7 471.6h0M599.0 474.9h0M658.9 485.3h0M686.4 490.4h0M600.6 511.3h0M622.6 492.1h0M626.2 390.9h0M647.8 451.5h0M509.0 489.0h0M683.2 448.5h0M682.6 479.8h0M612.2 467.3h0M487.9 502.7h0M617.9 403.4h0M477.5 513.7h0M681.6 449.5h0M549.0 493.5h0M601.6 434.4h0M635.5 463.9h0M430.4 515.9h0M585.4 456.1h0M660.4 468.2h0M650.2 416.5h0M586.9 451.9h0M526.5 506.6h0M564.4 489.2h0M488.7 468.6h0M681.8 490.8h0M650.5 471.6h0M538.3 507.9h0M590.6 379.6h0M438.3 514.3h0M574.3 513.5h0M589.0 509.7h0M546.9 504.8h0M670.7 501.1h0M415.9 512.4h0M584.2 509.6h0M639.3 447.6h0M612.1 467.8h0M638.5 507.4h0M563.6 445.9h0M655.4 444.4h0M575.1 497.1h0M453.0 488.6h0M564.5 456.9h0M667.5 383.8h0M611.4 500.2h0M567.1 452.6h0M586.4 501.3h0M537.2 470.5h0M477.4 499.9h0M466.5 484.6h0M575.4 483.4h0M680.8 448.6h0M599.4 490.7h0M497.6 487.6h0M454.9 516.4h0M649.0 449.5h0M599.6 489.3h0M498.7 473.4h0M498.6 490.6h0M677.7 420.1h0M576.4 467.8h0M567.1 380.9h0M525.1 481.3h0M669.9 510.2h0M658.8 475.1h0M552.3 442.3h0M615.1 495.3h0M638.1 490.4h0M602.5 454.9h0M478.8 475.4h0M466.5 499.2h0M532.4 395.5h0M637.0 477.1h0M568.0 494.9h0M660.2 509.3h0M558.6 388.5h0M588.7 515.3h0M624.0 511.2h0M537.1 499.6h0M516.3 477.9h0M409.9 509.4h0M574.5 469.8h0M497.6 505.2h0M589.7 475.9h0M545.3 502.3h0M656.6 441.5h0M589.4 503.9h0M426.9 475.3h0M620.7 435.9h0M612.2 471.2h0M545.3 480.9h0M508.3 511.6h0M489.9 419.4h0M675.0 462.6h0M634.2 472.4h0M669.6 496.2h0M573.8 455.7h0M438.6 502.3h0M601.6 483.6h0M596.5 419.0h0M566.4 488.6h0M484.7 467.0h0M536.4 392.4h0M566.7 492.7h0M455.5 443.3h0M624.7 444.9h0M460.7 484.8h0M539.6 440.0h0M613.1 505.5h0M446.7 515.0h0M489.0 476.5h0M446.9 500.4h0M565.7 494.5h0M589.8 475.1h0M539.4 463.5h0M446.4 505.4h0M547.5 488.2h0M682.0 441.8h0M520.4 464.2h0M612.4 460.3h0M570.2 452.3h0M546.3 469.7h0M671.1 501.0h0M423.2 505.2h0M673.9 506.4h0M445.3 489.3h0M477.0 479.2h0M453.4 494.7h0M422.1 504.5h0M671.6 470.5h0M573.1 495.9h0M600.9 461.5h0M479.4 514.2h0M581.4 444.0h0M585.8 461.6h0M581.1 442.2h0M440.1 509.5h0M636.5 454.3h0M637.4 474.4h0M586.5 454.3h0M578.4 481.8h0M635.2 455.0h0M557.6 465.2h0M446.6 514.1h0M590.0 480.6h0M688.8 420.6h0M623.6 515.5h0M590.9 505.1h0M557.9 486.8h0M470.7 513.9h0M670.8 457.9h0M640.1 510.5h0M608.8 446.6h0M660.2 493.8h0M527.4 513.3h0M586.4 466.7h0M681.9 511.3h0M657.7 452.5h0M658.5 492.0h0M439.6 499.1h0M507.9 428.6h0M624.0 462.0h0M489.8 507.2h0M660.4 496.6h0M614.5 467.7h0M566.7 433.8h0M589.1 448.4h0M518.6 467.1h0M685.9 415.3h0M517.9 511.8h0M547.4 513.3h0M536.8 489.9h0M598.9 490.5h0M623.1 515.1h0M457.0 510.8h0M575.4 503.2h0M427.0 474.4h0M544.7 488.7h0M672.6 462.6h0M611.0 499.1h0M626.0 506.8h0M542.4 487.3h0M589.1 466.5h0M537.8 488.3h0M577.0 515.5h0M591.9 505.5h0M625.6 481.9h0M506.9 489.5h0M624.4 475.0h0M649.1 463.3h0M425.3 503.5h0M490.8 497.0h0M527.4 485.7h0M516.0 472.8h0M600.1 489.2h0M649.2 494.6h0M445.7 512.5h0M564.9 508.0h0M554.8 487.3h0M635.9 507.0h0M586.4 462.1h0M555.4 511.9h0M496.9 470.3h0M445.9 511.0h0M658.1 487.6h0M626.4 462.4h0M601.9 468.4h0M577.0 453.8h0M683.0 500.2h0M648.7 465.5h0M453.0 514.5h0M510.5 500.3h0M614.9 467.3h0M556.6 499.3h0M647.4 469.5h0M484.8 466.9h0M660.7 486.0h0M454.1 511.8h0M672.1 481.7h0M586.1 502.8h0M489.3 511.5h0M479.7 487.6h0M588.6 490.3h0M566.6 465.2h0M507.6 514.0h0M599.4 442.7h0M504.9 509.1h0M681.0 506.7h0M539.4 416.0h0M589.6 516.0h0M540.0 444.6h0M601.8 509.2h0M468.7 461.3h0M678.2 486.8h0M535.0 511.7h0M413.9 510.7h0M558.3 490.8h0M548.4 516.3h0M601.3 486.2h0M515.4 487.1h0M562.1 388.4h0M679.5 464.9h0M430.2 513.8h0M591.1 480.9h0M509.5 508.7h0M670.7 440.1h0M453.5 513.2h0M526.3 479.8h0M526.6 514.2h0M610.4 494.0h0M672.7 418.8h0M623.6 509.3h0M540.8 398.3h0M454.3 506.1h0M676.9 390.4h0M673.1 474.5h0M479.1 501.8h0M499.0 471.5h0M547.8 464.6h0M459.6 499.6h0M586.3 467.4h0M659.3 462.5h0M566.7 499.1h0M489.6 483.8h0M572.4 471.0h0M536.9 481.2h0M655.6 482.3h0M517.0 454.9h0M556.7 486.7h0M628.9 417.6h0M634.5 504.1h0M636.9 463.9h0M648.8 507.3h0M428.3 501.0h0M586.2 514.2h0M508.7 474.6h0M602.4 454.0h0M557.5 516.1h0M650.7 483.7h0M454.4 492.7h0M685.3 489.6h0M521.0 449.4h0M440.4 444.6h0M457.7 503.2h0M629.8 437.5h0M428.8 478.7h0M576.0 466.7h0M682.2 446.4h0M497.8 515.4h0M468.6 500.5h0M650.8 510.4h0M546.5 479.3h0M544.5 489.7h0M645.8 469.0h0M656.9 504.1h0M586.0 508.8h0M647.9 487.4h0M497.3 476.6h0M430.7 494.1h0M564.6 488.3h0M636.3 418.6h0M661.5 513.0h0M563.6 490.5h0M481.7 453.1h0M588.0 473.7h0M637.0 491.5h0M658.7 420.6h0M591.5 465.9h0M453.7 510.9h0M601.0 484.3h0M526.3 497.2h0M659.6 483.3h0M526.6 469.5h0M567.3 472.1h0M497.4 479.6h0M490.1 462.9h0M545.4 466.8h0M553.5 443.5h0M672.6 455.8h0M467.8 494.1h0M638.1 505.8h0M555.7 476.0h0M683.1 445.9h0M421.7 506.1h0M591.8 469.3h0M650.9 503.2h0M486.6 506.5h0M543.9 447.0h0M578.9 516.4h0M647.1 406.5h0M492.4 472.6h0M646.9 453.6h0M588.8 496.3h0M446.0 504.7h0M446.3 489.8h0M611.4 467.3h0M557.3 490.5h0M538.6 474.0h0M662.2 468.2h0M479.9 499.2h0M680.1 460.8h0M541.3 439.9h0M445.5 499.3h0M680.5 451.4h0M538.5 491.5h0M535.9 475.6h0M681.8 468.2h0M489.8 433.7h0M647.9 451.8h0M479.0 496.4h0M467.8 497.2h0M509.0 471.6h0M443.6 466.2h0M613.0 486.7h0M546.6 505.8h0M585.5 453.3h0M616.4 424.4h0M648.8 509.1h0M453.4 493.1h0M660.7 475.7h0M454.0 488.8h0M603.9 480.6h0M444.0 489.4h0M491.8 501.3h0M562.0 409.8h0M627.5 505.0h0M576.5 479.0h0M431.3 503.6h0M601.0 506.5h0M519.4 466.5h0M589.6 452.6h0M578.5 488.5h0M639.5 451.5h0M650.4 446.3h0M454.3 487.8h0M478.0 481.3h0M498.0 498.5h0M547.9 468.3h0M454.4 515.3h0M611.2 496.0h0M683.7 393.3h0M637.0 506.3h0M591.3 509.1h0M588.7 507.2h0M670.6 438.4h0M563.6 453.9h0M453.6 508.9h0M474.1 479.9h0M448.0 479.0h0M437.3 491.1h0M490.0 512.3h0M557.0 484.7h0M505.3 462.0h0M669.5 464.3h0M589.8 490.4h0M556.2 467.7h0M517.8 473.5h0M670.7 456.8h0M626.7 489.6h0M671.9 460.4h0M546.7 507.3h0M624.2 484.8h0M526.2 498.4h0M641.0 443.2h0M490.4 508.1h0M557.9 469.7h0M681.8 516.7h0M578.1 516.9h0M545.0 497.7h0M526.7 474.0h0M555.2 507.9h0M446.5 492.8h0M612.5 455.7h0M494.7 401.0h0M634.7 501.3h0M639.8 422.8h0M573.2 470.5h0M623.0 473.4h0M574.4 443.2h0M489.0 500.1h0M498.1 497.2h0M670.4 516.0h0M490.1 507.8h0M426.7 488.5h0M611.8 495.8h0M487.9 484.7h0M498.5 471.0h0M675.7 495.6h0M610.6 483.7h0M639.0 503.6h0M549.3 408.9h0M625.5 474.5h0M567.2 493.4h0M529.7 483.2h0M481.1 497.2h0M623.2 506.3h0M660.2 465.4h0M554.3 441.0h0M469.4 461.8h0M559.2 512.1h0M613.6 484.9h0M488.8 510.7h0M436.2 505.4h0M628.3 508.0h0M610.5 461.7h0M557.7 494.3h0M565.0 462.2h0M466.5 459.6h0M505.8 501.9h0M618.7 432.7h0M684.7 461.6h0M497.5 491.0h0M637.4 458.8h0M508.2 481.3h0M515.9 492.6h0M672.5 445.4h0M568.3 459.7h0M506.6 509.9h0M665.6 429.4h0M507.9 467.7h0M527.6 505.5h0M469.5 487.5h0M575.2 492.9h0M679.3 446.1h0M536.1 480.8h0M658.3 473.1h0M528.0 516.2h0M548.6 433.7h0M461.6 489.5h0M445.9 513.6h0M469.4 481.4h0M588.8 483.7h0M574.0 466.8h0M508.1 431.6h0M515.8 490.7h0M538.2 496.5h0M547.2 497.4h0M460.4 516.0h0M625.3 501.3h0M465.6 481.8h0M577.6 472.5h0M466.3 514.7h0M634.2 479.1h0M647.4 449.5h0M681.7 502.7h0M610.3 431.7h0M649.2 490.7h0M423.1 468.6h0M544.0 508.4h0M682.0 444.8h0M660.1 445.2h0M458.9 509.8h0M505.5 502.0h0M599.1 516.1h0M609.6 510.8h0M625.8 470.6h0M588.6 510.0h0M460.3 506.4h0M416.6 499.4h0M594.6 437.2h0M497.5 494.0h0M506.5 472.7h0M585.8 506.3h0M625.9 515.4h0M657.5 497.0h0M544.4 465.6h0M635.2 501.9h0M585.9 464.7h0M566.4 485.7h0M635.5 462.3h0M681.8 475.9h0M557.5 487.3h0M683.4 467.4h0M611.2 481.6h0M646.8 466.2h0M562.2 432.8h0M547.3 495.3h0M459.9 510.5h0M479.5 487.4h0M508.1 490.2h0M446.6 469.7h0M506.5 471.1h0M586.0 485.4h0M625.0 468.6h0M623.8 499.8h0M660.6 480.3h0M555.7 474.1h0M610.5 473.3h0M610.7 486.4h0M534.8 503.2h0M658.9 380.3h0M592.4 501.2h0M547.8 493.6h0M649.0 431.6h0M541.7 501.1h0M528.7 484.2h0M554.5 480.2h0M637.2 446.9h0M648.4 491.3h0M524.4 494.7h0M682.8 465.1h0M603.3 504.9h0M517.3 472.8h0M656.9 453.1h0M586.0 469.7h0M673.8 428.6h0M512.9 446.6h0M613.8 397.5h0M546.9 495.5h0M646.4 418.6h0M448.0 448.0h0M489.0 502.8h0M494.1 461.5h0M623.3 449.7h0M508.2 498.5h0M586.2 491.8h0M646.0 457.5h0M623.9 444.5h0M626.8 495.5h0M416.3 494.9h0M671.7 482.1h0M610.8 475.4h0M478.6 488.8h0M619.5 420.6h0M555.7 504.3h0M647.8 457.0h0M615.2 472.1h0M479.1 491.5h0M578.7 471.9h0M650.8 449.0h0M669.1 453.2h0M666.6 426.1h0M456.7 502.3h0M586.5 513.4h0M669.3 400.6h0M615.9 434.6h0M558.0 473.9h0M567.1 484.0h0M629.1 414.6h0M656.3 432.4h0M588.7 464.3h0M489.8 515.8h0M586.1 497.6h0M556.6 470.9h0M600.5 488.1h0M454.2 514.3h0M612.3 495.9h0M556.7 509.1h0M618.4 447.5h0M527.5 472.1h0M488.8 496.0h0M601.9 473.7h0M497.4 486.8h0M657.5 487.7h0M480.1 455.6h0M674.0 495.6h0M598.8 456.1h0M600.9 489.6h0M528.2 498.7h0M544.7 480.1h0M602.9 506.3h0M479.6 487.1h0M557.1 491.6h0M576.9 476.8h0M682.4 508.7h0M539.9 491.5h0M460.4 515.3h0M487.1 443.4h0M565.8 466.1h0M655.8 425.9h0M565.1 472.9h0M586.9 475.5h0M600.3 453.3h0M441.3 484.1h0M659.0 442.3h0M577.1 469.8h0M682.7 456.8h0M637.4 499.9h0M453.2 485.3h0" stroke="#07304a" stroke-opacity="0.85" stroke-width="6.8" stroke-linecap="round" fill="none"/>
<path d="M449.6 511.0v3.0M456.7 508.3v5.7M464.5 505.3v8.7M473.8 501.5v7.4M483.5 498.1v4.8M483.2 505.4v8.6M493.8 495.8v3.8M494.0 503.7v8.0M502.7 493.6v9.0M503.0 505.7v8.3M511.8 491.4v12.5M511.9 510.2v3.8M522.6 489.0v8.5M522.0 502.2v11.8M532.1 486.7v10.6M532.7 505.5v5.0M532.7 512.8v1.2M541.6 484.5v6.1M541.3 494.6v3.8M541.4 505.2v8.8M551.7 482.3v4.1M551.7 492.5v12.6M561.6 480.6v11.7M561.9 495.0v5.7M562.0 509.1v4.9M571.7 479.0v11.5M571.1 500.0v12.3M580.6 477.2v10.8M581.2 497.5v13.2M587.5 476.1v5.1M588.2 487.9v10.9M587.5 504.2v9.8M595.0 474.7v7.5M596.0 485.8v4.1M596.0 494.2v8.3M595.2 505.4v8.6M606.9 472.8v10.5M606.7 491.0v6.7M607.4 506.9v7.0M617.9 470.8v6.5M618.4 485.4v12.9M618.9 506.7v7.3M630.0 469.0v12.9M630.3 490.0v11.0M630.8 510.3v3.7M642.3 467.2v13.9M642.9 486.0v5.5M642.8 496.1v3.5M642.6 506.0v8.0M653.9 465.5v11.4M653.4 486.7v13.9M653.3 503.4v7.5M665.0 463.8v10.5M665.7 478.5v6.3M665.8 491.0v9.5M665.5 508.9v5.1M677.5 462.0v5.1M676.5 473.0v11.8M677.5 489.4v6.8M676.4 506.1v3.7" stroke="#7f99aa" stroke-opacity="0.4" stroke-width="1" fill="none"/>
<g fill="#d3204f" stroke="#b01a48" stroke-width="0.6"><polygon points="399.8,369.2 401.2,373.1 405.3,373.2 402.0,375.7 403.2,379.7 399.8,377.3 396.4,379.7 397.6,375.7 394.3,373.2 398.4,373.1"/><polygon points="533.9,366.2 535.3,370.1 539.4,370.2 536.1,372.7 537.3,376.7 533.9,374.3 530.5,376.7 531.7,372.7 528.4,370.2 532.5,370.1"/><polygon points="552.1,322.0 553.5,325.9 557.6,326.0 554.3,328.5 555.5,332.5 552.1,330.1 548.7,332.5 549.9,328.5 546.6,326.0 550.7,325.9"/><polygon points="561.6,368.4 563.0,372.3 567.1,372.4 563.8,374.9 565.0,378.9 561.6,376.5 558.2,378.9 559.4,374.9 556.1,372.4 560.2,372.3"/><polygon points="567.4,370.6 568.8,374.5 572.9,374.6 569.6,377.1 570.8,381.1 567.4,378.7 564.0,381.1 565.2,377.1 561.9,374.6 566.0,374.5"/><polygon points="573.3,367.0 574.7,370.9 578.8,371.0 575.5,373.5 576.7,377.5 573.3,375.1 569.9,377.5 571.1,373.5 567.8,371.0 571.9,370.9"/><polygon points="585.7,356.0 587.1,359.9 591.2,360.0 587.9,362.5 589.1,366.5 585.7,364.1 582.3,366.5 583.5,362.5 580.2,360.0 584.3,359.9"/><polygon points="592.3,331.6 593.7,335.5 597.8,335.6 594.5,338.1 595.7,342.1 592.3,339.7 588.9,342.1 590.1,338.1 586.8,335.6 590.9,335.5"/><polygon points="610.5,334.8 611.9,338.7 616.0,338.8 612.7,341.3 613.9,345.3 610.5,342.9 607.1,345.3 608.3,341.3 605.0,338.8 609.1,338.7"/><polygon points="619.6,340.4 621.0,344.3 625.1,344.4 621.8,346.9 623.0,350.9 619.6,348.5 616.2,350.9 617.4,346.9 614.1,344.4 618.2,344.3"/><polygon points="627.9,355.2 629.3,359.1 633.4,359.2 630.1,361.7 631.3,365.7 627.9,363.3 624.5,365.7 625.7,361.7 622.4,359.2 626.5,359.1"/><polygon points="640.9,346.5 642.3,350.4 646.4,350.5 643.1,353.0 644.3,357.0 640.9,354.6 637.5,357.0 638.7,353.0 635.4,350.5 639.5,350.4"/><polygon points="651.5,344.6 652.9,348.5 657.0,348.6 653.7,351.1 654.9,355.1 651.5,352.7 648.1,355.1 649.3,351.1 646.0,348.6 650.1,348.5"/><polygon points="651.5,350.2 652.9,354.1 657.0,354.2 653.7,356.7 654.9,360.7 651.5,358.3 648.1,360.7 649.3,356.7 646.0,354.2 650.1,354.1"/><polygon points="650.9,355.8 652.3,359.7 656.4,359.8 653.1,362.3 654.3,366.3 650.9,363.9 647.5,366.3 648.7,362.3 645.4,359.8 649.5,359.7"/><polygon points="658.3,366.2 659.7,370.1 663.8,370.2 660.5,372.7 661.7,376.7 658.3,374.3 654.9,376.7 656.1,372.7 652.8,370.2 656.9,370.1"/><polygon points="674.4,357.0 675.8,360.9 679.9,361.0 676.6,363.5 677.8,367.5 674.4,365.1 671.0,367.5 672.2,363.5 668.9,361.0 673.0,360.9"/><polygon points="675.7,362.0 677.1,365.9 681.2,366.0 677.9,368.5 679.1,372.5 675.7,370.1 672.3,372.5 673.5,368.5 670.2,366.0 674.3,365.9"/></g>
<polyline fill="none" stroke="#228b22" stroke-width="2.8" stroke-linejoin="round" points="69.0,381.0 77.0,380.0 89.0,390.0 95.0,388.0 101.0,391.0 109.0,389.0 117.0,384.0 122.0,381.6 126.0,392.0 131.0,394.4 141.0,391.6 149.0,390.0 155.0,394.0 161.0,390.0 168.0,389.0 175.0,398.0 183.0,400.0 189.0,399.0 197.0,395.0 206.0,393.5 214.0,399.0 222.0,405.6 232.0,407.0 242.0,410.0 249.0,407.0 258.0,409.0 270.0,411.0 284.0,413.6 292.0,414.0 299.0,407.0 304.0,403.6 312.0,406.0 318.0,416.0 326.0,420.0 336.0,421.0 343.0,416.5 353.0,417.0 361.0,421.0 369.0,422.0 379.0,417.0 385.0,414.0 397.0,414.4 405.0,419.0 415.0,427.0 425.0,431.0 437.0,431.6 447.0,434.0 455.0,429.0 463.0,421.0 469.0,418.0 480.0,419.0 488.0,417.0 500.0,423.6 508.0,421.0 518.0,425.0 528.0,420.0 538.0,414.0 548.0,408.5 556.0,407.5 566.0,411.0 575.0,414.0 586.0,410.0 599.0,404.7 610.0,406.0 624.0,400.0 636.0,403.0 648.0,407.0 660.0,413.0 672.0,407.0 684.0,400.0"/>
<polyline fill="none" stroke="#000" stroke-width="2.1" stroke-dasharray="7.2 2.8" points="69.0,336.0 79.0,343.0 89.0,344.0 99.0,349.0 107.0,350.0 117.0,347.0 122.0,342.0 129.0,349.0 141.0,355.0 153.0,354.0 163.0,354.0 173.0,358.0 181.0,364.0 189.0,367.0 197.0,359.0 206.0,358.5 214.0,357.0 220.0,365.0 228.0,367.0 236.0,372.0 242.0,378.0 248.0,369.0 254.0,372.0 264.0,375.0 272.0,376.4 286.0,379.0 292.0,378.0 298.0,366.0 306.0,369.0 314.0,373.0 320.0,382.0 326.0,386.0 334.0,378.0 343.0,377.5 351.0,383.0 361.0,385.0 373.0,382.6 383.0,376.0 391.0,380.0 403.0,384.0 413.0,391.0 423.0,397.0 433.0,399.6 445.0,400.0 453.0,394.0 461.0,393.0 467.0,382.0 477.0,383.0 488.0,384.4 494.0,389.0 502.0,390.0 510.0,389.0 518.0,392.0 526.0,389.0 536.0,382.0 544.0,373.0 556.0,370.0 566.0,376.0 576.0,375.0 586.0,377.0 592.0,371.0 606.0,367.6 616.0,365.0 626.0,362.0 638.0,364.4 650.0,366.0 658.0,373.0 666.0,372.0 676.0,367.0 684.0,365.0"/>
<polyline fill="none" stroke="#000" stroke-width="2.2" stroke-linejoin="round" points="70.6,384.4 75.0,384.0 80.6,290.0 86.6,295.6 92.0,399.6 98.6,400.4 104.0,402.4 110.0,332.4 116.0,283.6 121.4,237.0 127.4,378.6 133.0,345.6 139.0,357.3 145.4,359.0 150.6,332.0 157.0,375.0 162.4,314.4 169.0,317.0 174.6,357.3 180.0,384.4 186.6,410.0 192.0,356.0 198.0,298.0 199.3,267.6 206.6,281.0 213.4,321.0 220.0,383.0 227.6,360.8 234.6,356.2 241.6,401.0 248.6,331.5 256.0,332.0 263.4,338.2 271.0,375.0 278.0,382.4 285.4,385.0 292.4,392.4 299.6,319.6 306.6,300.0 314.0,332.7 321.4,405.0 328.4,408.6 329.0,363.3 336.4,350.8 344.5,348.5 352.6,389.0 360.6,422.0 368.0,426.6 375.6,409.6 383.6,359.3 391.6,380.5 399.6,360.0 407.4,414.4 415.4,426.6 423.4,441.6 430.6,448.4 438.4,452.4 446.0,453.6 454.0,435.6 459.6,424.0 469.0,374.0 478.5,372.0 489.0,345.3 498.4,399.0 507.6,393.6 517.0,412.4 527.6,374.4 537.0,318.4 546.6,306.6 557.0,318.0 566.4,368.5 576.0,349.0 586.2,354.2 589.4,333.8 601.5,303.0 612.2,308.4 624.6,275.8 636.6,294.0 648.6,317.4 659.0,383.4 671.6,363.0 682.4,319.0 694.0,300.0"/>
<g fill="#000"><circle cx="70.6" cy="384.4" r="3.7"/><circle cx="75" cy="384" r="3.7"/><circle cx="80.6" cy="290" r="3.7"/><circle cx="86.6" cy="295.6" r="3.7"/><circle cx="92" cy="399.6" r="3.7"/><circle cx="98.6" cy="400.4" r="3.7"/><circle cx="104" cy="402.4" r="3.7"/><circle cx="110" cy="332.4" r="3.7"/><circle cx="116" cy="283.6" r="3.7"/><circle cx="121.4" cy="237" r="3.7"/><circle cx="127.4" cy="378.6" r="3.7"/><circle cx="133" cy="345.6" r="3.7"/><circle cx="139" cy="357.3" r="3.7"/><circle cx="145.4" cy="359" r="3.7"/><circle cx="150.6" cy="332" r="3.7"/><circle cx="157" cy="375" r="3.7"/><circle cx="162.4" cy="314.4" r="3.7"/><circle cx="169" cy="317" r="3.7"/><circle cx="174.6" cy="357.3" r="3.7"/><circle cx="180" cy="384.4" r="3.7"/><circle cx="186.6" cy="410" r="3.7"/><circle cx="192" cy="356" r="3.7"/><circle cx="198" cy="298" r="3.7"/><circle cx="199.3" cy="267.6" r="3.7"/><circle cx="206.6" cy="281" r="3.7"/><circle cx="213.4" cy="321" r="3.7"/><circle cx="220" cy="383" r="3.7"/><circle cx="227.6" cy="360.8" r="3.7"/><circle cx="234.6" cy="356.2" r="3.7"/><circle cx="241.6" cy="401" r="3.7"/><circle cx="248.6" cy="331.5" r="3.7"/><circle cx="256" cy="332" r="3.7"/><circle cx="263.4" cy="338.2" r="3.7"/><circle cx="271" cy="375" r="3.7"/><circle cx="278" cy="382.4" r="3.7"/><circle cx="285.4" cy="385" r="3.7"/><circle cx="292.4" cy="392.4" r="3.7"/><circle cx="299.6" cy="319.6" r="3.7"/><circle cx="306.6" cy="300" r="3.7"/><circle cx="314" cy="332.7" r="3.7"/><circle cx="321.4" cy="405" r="3.7"/><circle cx="328.4" cy="408.6" r="3.7"/><circle cx="329" cy="363.3" r="3.7"/><circle cx="336.4" cy="350.8" r="3.7"/><circle cx="344.5" cy="348.5" r="3.7"/><circle cx="352.6" cy="389" r="3.7"/><circle cx="360.6" cy="422" r="3.7"/><circle cx="368" cy="426.6" r="3.7"/><circle cx="375.6" cy="409.6" r="3.7"/><circle cx="383.6" cy="359.3" r="3.7"/><circle cx="391.6" cy="380.5" r="3.7"/><circle cx="399.6" cy="360" r="3.7"/><circle cx="407.4" cy="414.4" r="3.7"/><circle cx="415.4" cy="426.6" r="3.7"/><circle cx="423.4" cy="441.6" r="3.7"/><circle cx="430.6" cy="448.4" r="3.7"/><circle cx="438.4" cy="452.4" r="3.7"/><circle cx="446" cy="453.6" r="3.7"/><circle cx="454" cy="435.6" r="3.7"/><circle cx="459.6" cy="424" r="3.7"/><circle cx="469" cy="374" r="3.7"/><circle cx="478.5" cy="372" r="3.7"/><circle cx="489" cy="345.3" r="3.7"/><circle cx="498.4" cy="399" r="3.7"/><circle cx="507.6" cy="393.6" r="3.7"/><circle cx="517" cy="412.4" r="3.7"/><circle cx="527.6" cy="374.4" r="3.7"/><circle cx="537" cy="318.4" r="3.7"/><circle cx="546.6" cy="306.6" r="3.7"/><circle cx="557" cy="318" r="3.7"/><circle cx="566.4" cy="368.5" r="3.7"/><circle cx="576" cy="349" r="3.7"/><circle cx="586.2" cy="354.2" r="3.7"/><circle cx="589.4" cy="333.8" r="3.7"/><circle cx="601.5" cy="303" r="3.7"/><circle cx="612.2" cy="308.4" r="3.7"/><circle cx="624.6" cy="275.8" r="3.7"/><circle cx="636.6" cy="294" r="3.7"/><circle cx="648.6" cy="317.4" r="3.7"/><circle cx="659" cy="383.4" r="3.7"/><circle cx="671.6" cy="363" r="3.7"/><circle cx="682.4" cy="319" r="3.7"/><circle cx="694" cy="300" r="3.7"/></g>
</g>
<rect x="69.0" y="28.3" width="614.6" height="486.7" fill="none" stroke="#777" stroke-width="1.4"/>
<line x1="134.6" y1="515.0" x2="134.6" y2="519.6" stroke="#333" stroke-width="0.9"/>
<text x="134.6" y="540.3" font-size="24.4" text-anchor="middle" textLength="26" lengthAdjust="spacingAndGlyphs">20</text>
<line x1="264.6" y1="515.0" x2="264.6" y2="519.6" stroke="#333" stroke-width="0.9"/>
<text x="264.6" y="540.3" font-size="24.4" text-anchor="middle" textLength="26" lengthAdjust="spacingAndGlyphs">30</text>
<line x1="394.6" y1="515.0" x2="394.6" y2="519.6" stroke="#333" stroke-width="0.9"/>
<text x="394.6" y="540.3" font-size="24.4" text-anchor="middle" textLength="26" lengthAdjust="spacingAndGlyphs">40</text>
<line x1="524.6" y1="515.0" x2="524.6" y2="519.6" stroke="#333" stroke-width="0.9"/>
<text x="524.6" y="540.3" font-size="24.4" text-anchor="middle" textLength="26" lengthAdjust="spacingAndGlyphs">50</text>
<line x1="654.6" y1="515.0" x2="654.6" y2="519.6" stroke="#333" stroke-width="0.9"/>
<text x="654.6" y="540.3" font-size="24.4" text-anchor="middle" textLength="26" lengthAdjust="spacingAndGlyphs">60</text>
<line x1="64.4" y1="515.0" x2="69.0" y2="515.0" stroke="#333" stroke-width="0.9"/>
<text x="46.6" y="523.5" font-size="24.4" textLength="13" lengthAdjust="spacingAndGlyphs">0</text>
<line x1="64.4" y1="450.1" x2="69.0" y2="450.1" stroke="#333" stroke-width="0.9"/>
<text x="46.6" y="458.6" font-size="24.4" textLength="13" lengthAdjust="spacingAndGlyphs">2</text>
<line x1="64.4" y1="385.1" x2="69.0" y2="385.1" stroke="#333" stroke-width="0.9"/>
<text x="46.6" y="393.6" font-size="24.4" textLength="13" lengthAdjust="spacingAndGlyphs">4</text>
<line x1="64.4" y1="320.2" x2="69.0" y2="320.2" stroke="#333" stroke-width="0.9"/>
<text x="46.6" y="328.7" font-size="24.4" textLength="13" lengthAdjust="spacingAndGlyphs">6</text>
<line x1="64.4" y1="255.2" x2="69.0" y2="255.2" stroke="#333" stroke-width="0.9"/>
<text x="46.6" y="263.7" font-size="24.4" textLength="13" lengthAdjust="spacingAndGlyphs">8</text>
<line x1="64.4" y1="190.3" x2="69.0" y2="190.3" stroke="#333" stroke-width="0.9"/>
<text x="33.6" y="198.8" font-size="24.4" textLength="26" lengthAdjust="spacingAndGlyphs">10</text>
<line x1="64.4" y1="125.4" x2="69.0" y2="125.4" stroke="#333" stroke-width="0.9"/>
<text x="33.6" y="133.9" font-size="24.4" textLength="26" lengthAdjust="spacingAndGlyphs">12</text>
<line x1="64.4" y1="60.4" x2="69.0" y2="60.4" stroke="#333" stroke-width="0.9"/>
<text x="33.6" y="68.9" font-size="24.4" textLength="26" lengthAdjust="spacingAndGlyphs">14</text>
<rect x="80" y="39" width="361.8" height="201" rx="3.5" fill="#fff" fill-opacity="0.8" stroke="#ccc" stroke-opacity="0.8" stroke-width="1"/>
<line x1="87.4" y1="56" x2="134.4" y2="56" stroke="#000" stroke-width="2.2"/><circle cx="111" cy="56" r="3.7"/>
<line x1="88.6" y1="89.2" x2="132.4" y2="89.2" stroke="#000" stroke-width="2.1" stroke-dasharray="7.4 2.6"/>
<circle cx="111" cy="122" r="3.5" fill="#d3d3d3"/>
<circle cx="111" cy="154.4" r="3.5" fill="#191970"/>
<rect x="88.7" y="178.9" width="44.8" height="15.4" fill="#3ec73e" stroke="#2f9e2f" stroke-width="1"/>
<rect x="88.7" y="211.7" width="44.8" height="14.6" fill="#ffdd63" stroke="#efbf2e" stroke-width="1"/>
<text x="151.3" y="63.7" font-size="24" textLength="104" lengthAdjust="spacingAndGlyphs">Observed</text>
<text x="151.3" y="96.1" font-size="24" textLength="189.3" lengthAdjust="spacingAndGlyphs">Median expected</text>
<text x="151.3" y="128.4" font-size="24" textLength="280.8" lengthAdjust="spacingAndGlyphs">Allowed points from scan</text>
<text x="151.3" y="160.9" font-size="24" textLength="81.5" lengthAdjust="spacingAndGlyphs">Pass all</text>
<text x="151.3" y="193.3" font-size="24" textLength="192.2" lengthAdjust="spacingAndGlyphs">68% CL expected</text>
<text x="151.3" y="225.6" font-size="24" textLength="192.2" lengthAdjust="spacingAndGlyphs">95% CL expected</text>
<text x="482.7" y="25.3" font-size="23.6" textLength="75.8" lengthAdjust="spacingAndGlyphs">35.9 fb</text>
<text x="561" y="16" font-size="16.5" textLength="19.8" lengthAdjust="spacingAndGlyphs">−1</text>
<text x="591" y="25.3" font-size="23.6" textLength="94" lengthAdjust="spacingAndGlyphs">(13 TeV)</text>
<text class="s" x="324" y="567.5" font-size="23.5" font-style="italic" textLength="19" lengthAdjust="spacingAndGlyphs">m</text>
<text class="s" x="344.6" y="569.4" font-size="16.5" font-style="italic">a</text>
<text x="364.3" y="567.5" font-size="24.6" textLength="64" lengthAdjust="spacingAndGlyphs">[GeV]</text>
<text class="s" transform="translate(20.7,537) rotate(-90)" text-anchor="middle" font-size="23.5" font-style="italic">B</text><text class="s" transform="translate(20.7,524) rotate(-90)" text-anchor="middle" font-size="23.5">(</text><text class="s" transform="translate(20.7,515.3) rotate(-90)" text-anchor="middle" font-size="23.5" font-style="italic">t</text><path d="M13.4 510V494.3M8.600000000000001 499.09999999999997L13.4 494.09999999999997L18.2 499.09999999999997" fill="none" stroke="#000" stroke-width="1.7"/><text class="s" transform="translate(20.7,484.5) rotate(-90)" text-anchor="middle" font-size="23.5" font-style="italic">b</text><text class="s" transform="translate(20.7,468.3) rotate(-90)" text-anchor="middle" font-size="23.5" font-style="italic">H</text><text class="s" transform="translate(11.8,448.6) rotate(-90)" text-anchor="middle" font-size="16.5" textLength="12.6" lengthAdjust="spacingAndGlyphs">±</text><text class="s" transform="translate(20.7,432.8) rotate(-90)" text-anchor="middle" font-size="23.5">)</text><path d="M7.6 408.8L19.2 420.2M19.2 408.8L7.6 420.2" fill="none" stroke="#000" stroke-width="1.8"/><text class="s" transform="translate(20.7,391.2) rotate(-90)" text-anchor="middle" font-size="23.5" font-style="italic">B</text><text class="s" transform="translate(20.7,379.4) rotate(-90)" text-anchor="middle" font-size="23.5">(</text><text class="s" transform="translate(20.7,368.8) rotate(-90)" text-anchor="middle" font-size="23.5" font-style="italic">H</text><text class="s" transform="translate(11.8,347.2) rotate(-90)" text-anchor="middle" font-size="16.5" textLength="12.6" lengthAdjust="spacingAndGlyphs">±</text><path d="M13.4 334.6V317.6M8.600000000000001 322.4L13.4 317.4L18.2 322.4" fill="none" stroke="#000" stroke-width="1.7"/><text class="s" transform="translate(20.7,306.8) rotate(-90)" text-anchor="middle" font-size="23.5" font-style="italic">W</text><text class="s" transform="translate(11.8,285.9) rotate(-90)" text-anchor="middle" font-size="16.5" textLength="12.6" lengthAdjust="spacingAndGlyphs">±</text><text class="s" transform="translate(20.7,266.2) rotate(-90)" text-anchor="middle" font-size="23.5" font-style="italic">a</text><text class="s" transform="translate(20.7,254.1) rotate(-90)" text-anchor="middle" font-size="23.5">)</text><path d="M7.6 230.10000000000002L19.2 241.5M19.2 230.10000000000002L7.6 241.5" fill="none" stroke="#000" stroke-width="1.8"/><text class="s" transform="translate(20.7,213.7) rotate(-90)" text-anchor="middle" font-size="23.5" font-style="italic">B</text><text class="s" transform="translate(20.7,200.4) rotate(-90)" text-anchor="middle" font-size="23.5">(</text><text class="s" transform="translate(20.7,190) rotate(-90)" text-anchor="middle" font-size="23.5">a</text><path d="M13.4 181.7V166.0M8.600000000000001 170.8L13.4 165.8L18.2 170.8" fill="none" stroke="#000" stroke-width="1.7"/><text class="s" transform="translate(20.7,155.6) rotate(-90)" text-anchor="middle" font-size="25.5" font-style="italic">μ</text><text class="s" transform="translate(11.8,137.5) rotate(-90)" text-anchor="middle" font-size="16.5" textLength="14.2" lengthAdjust="spacingAndGlyphs">+</text><text class="s" transform="translate(20.7,120.6) rotate(-90)" text-anchor="middle" font-size="25.5" font-style="italic">μ</text><text class="s" transform="translate(11.8,100.5) rotate(-90)" text-anchor="middle" font-size="16.5" textLength="13" lengthAdjust="spacingAndGlyphs">−</text><text class="s" transform="translate(20.7,86.5) rotate(-90)" text-anchor="middle" font-size="23.5">)</text><path d="M7.6 62.0L19.2 73.4M19.2 62.0L7.6 73.4" fill="none" stroke="#000" stroke-width="1.8"/><text class="s" transform="translate(20.7,38.5) rotate(-90)" text-anchor="middle" font-size="23.5" textLength="27" lengthAdjust="spacingAndGlyphs">10</text><text class="s" transform="translate(11.8,17.3) rotate(-90)" text-anchor="middle" font-size="16.5" textLength="13" lengthAdjust="spacingAndGlyphs">−</text><text class="s" transform="translate(11.8,5.0) rotate(-90)" text-anchor="middle" font-size="16.5">6</text>
</svg></body></html>
